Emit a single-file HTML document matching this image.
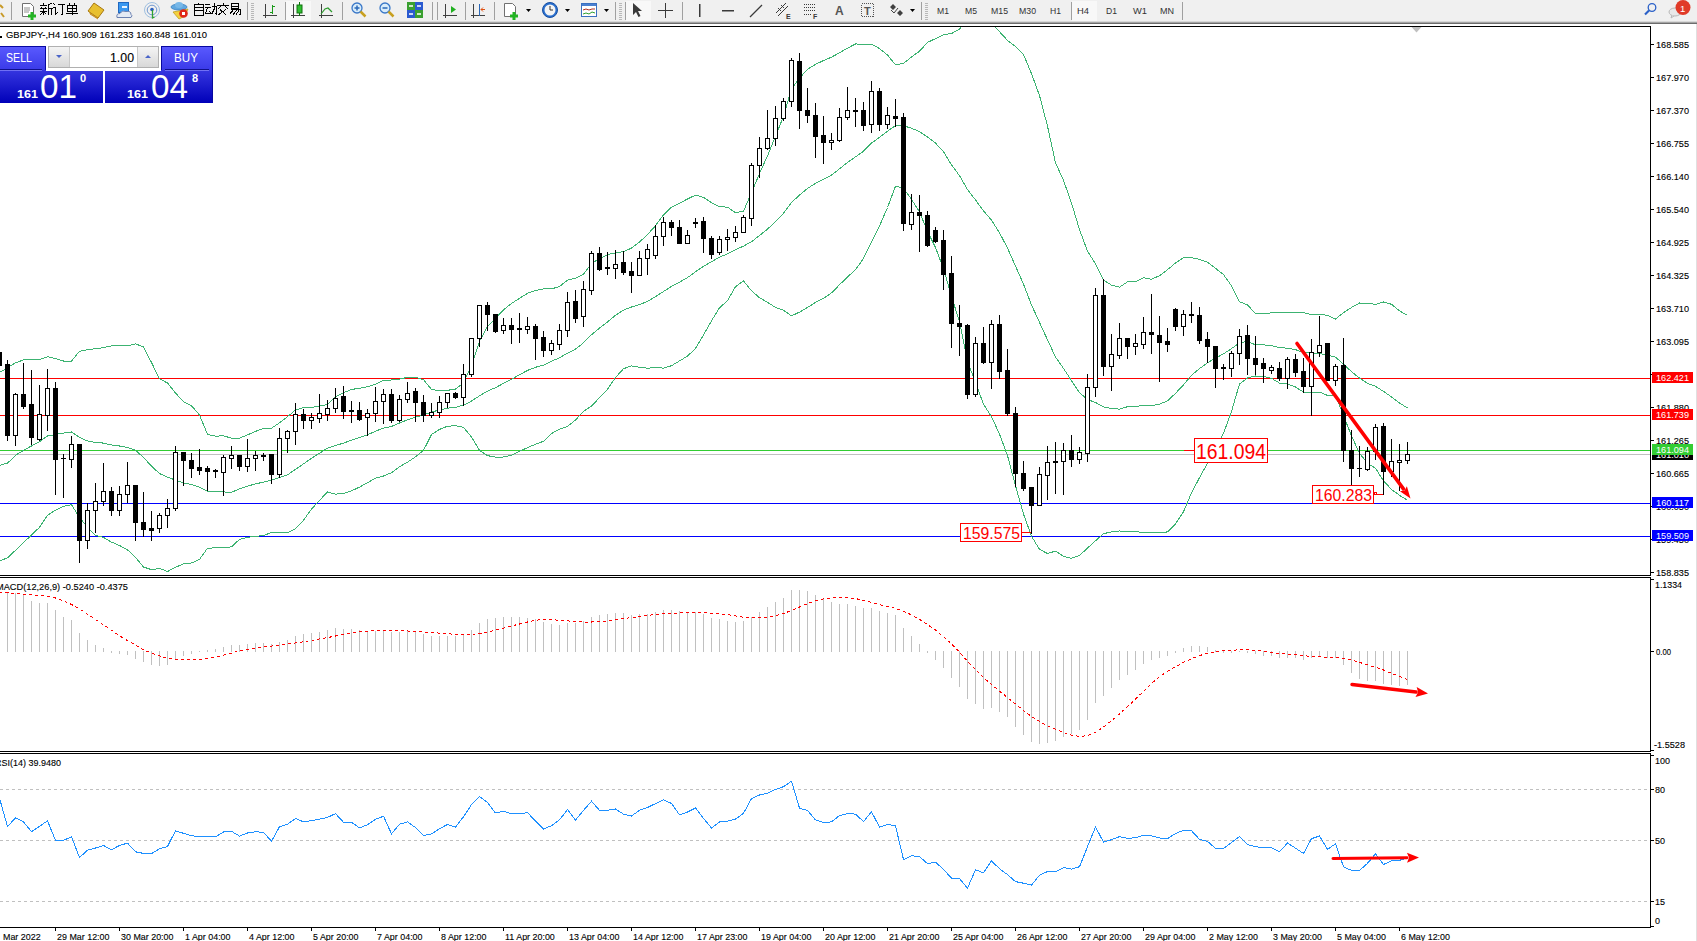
<!DOCTYPE html><html><head><meta charset="utf-8"><style>
html,body{margin:0;padding:0;background:#fff;width:1697px;height:941px;overflow:hidden;}
svg{position:absolute;left:0;top:0;display:block}
text{font-family:"Liberation Sans",sans-serif;}
text[fill="#000"]{stroke:#000;stroke-width:0.12px;}
</style></head><body>
<svg width="1697" height="941" viewBox="0 0 1697 941">
<rect x="0" y="0" width="1697" height="941" fill="#fff"/>
<rect x="0" y="0" width="1697" height="22" fill="#f0f0f0"/>
<rect x="0" y="21" width="1697" height="1" fill="#d8d8d8"/>
<rect x="0" y="22" width="1697" height="1" fill="#a4a4a4"/>
<rect x="0" y="23" width="1697" height="1" fill="#6c6c6c"/>
<rect x="1696" y="24" width="1" height="917" fill="#e0e0e0"/>
<g shape-rendering="crispEdges">
<rect x="0" y="26" width="1651" height="1" fill="#000"/>
<rect x="0" y="575" width="1651" height="1" fill="#000"/>
<rect x="1650" y="26" width="1" height="550" fill="#000"/>
<rect x="0" y="577" width="1651" height="1" fill="#000"/>
<rect x="0" y="751" width="1651" height="1" fill="#000"/>
<rect x="1650" y="577" width="1" height="175" fill="#000"/>
<rect x="0" y="753" width="1651" height="1" fill="#000"/>
<rect x="0" y="927" width="1651" height="1" fill="#000"/>
<rect x="1650" y="753" width="1" height="175" fill="#000"/>
<rect x="1651" y="44" width="3" height="1" fill="#000"/>
<rect x="1651" y="77" width="3" height="1" fill="#000"/>
<rect x="1651" y="110" width="3" height="1" fill="#000"/>
<rect x="1651" y="143" width="3" height="1" fill="#000"/>
<rect x="1651" y="176" width="3" height="1" fill="#000"/>
<rect x="1651" y="209" width="3" height="1" fill="#000"/>
<rect x="1651" y="242" width="3" height="1" fill="#000"/>
<rect x="1651" y="275" width="3" height="1" fill="#000"/>
<rect x="1651" y="308" width="3" height="1" fill="#000"/>
<rect x="1651" y="341" width="3" height="1" fill="#000"/>
<rect x="1651" y="374" width="3" height="1" fill="#000"/>
<rect x="1651" y="407" width="3" height="1" fill="#000"/>
<rect x="1651" y="440" width="3" height="1" fill="#000"/>
<rect x="1651" y="473" width="3" height="1" fill="#000"/>
<rect x="1651" y="506" width="3" height="1" fill="#000"/>
<rect x="1651" y="539" width="3" height="1" fill="#000"/>
<rect x="1651" y="572" width="3" height="1" fill="#000"/>
</g>
<text x="1656" y="48" font-size="9.6" textLength="33" lengthAdjust="spacingAndGlyphs" fill="#000">168.585</text>
<text x="1656" y="81" font-size="9.6" textLength="33" lengthAdjust="spacingAndGlyphs" fill="#000">167.970</text>
<text x="1656" y="114" font-size="9.6" textLength="33" lengthAdjust="spacingAndGlyphs" fill="#000">167.370</text>
<text x="1656" y="147" font-size="9.6" textLength="33" lengthAdjust="spacingAndGlyphs" fill="#000">166.755</text>
<text x="1656" y="180" font-size="9.6" textLength="33" lengthAdjust="spacingAndGlyphs" fill="#000">166.140</text>
<text x="1656" y="213" font-size="9.6" textLength="33" lengthAdjust="spacingAndGlyphs" fill="#000">165.540</text>
<text x="1656" y="246" font-size="9.6" textLength="33" lengthAdjust="spacingAndGlyphs" fill="#000">164.925</text>
<text x="1656" y="279" font-size="9.6" textLength="33" lengthAdjust="spacingAndGlyphs" fill="#000">164.325</text>
<text x="1656" y="312" font-size="9.6" textLength="33" lengthAdjust="spacingAndGlyphs" fill="#000">163.710</text>
<text x="1656" y="345" font-size="9.6" textLength="33" lengthAdjust="spacingAndGlyphs" fill="#000">163.095</text>
<text x="1656" y="378" font-size="9.6" textLength="33" lengthAdjust="spacingAndGlyphs" fill="#000">162.480</text>
<text x="1656" y="411" font-size="9.6" textLength="33" lengthAdjust="spacingAndGlyphs" fill="#000">161.880</text>
<text x="1656" y="444" font-size="9.6" textLength="33" lengthAdjust="spacingAndGlyphs" fill="#000">161.265</text>
<text x="1656" y="477" font-size="9.6" textLength="33" lengthAdjust="spacingAndGlyphs" fill="#000">160.665</text>
<text x="1656" y="510" font-size="9.6" textLength="33" lengthAdjust="spacingAndGlyphs" fill="#000">160.050</text>
<text x="1656" y="543" font-size="9.6" textLength="33" lengthAdjust="spacingAndGlyphs" fill="#000">159.450</text>
<text x="1656" y="576" font-size="9.6" textLength="33" lengthAdjust="spacingAndGlyphs" fill="#000">158.835</text>
<defs><clipPath id="cm"><rect x="0" y="27" width="1650" height="548"/></clipPath>
<clipPath id="cmacd"><rect x="0" y="578" width="1650" height="173"/></clipPath>
<clipPath id="crsi"><rect x="0" y="754" width="1650" height="173"/></clipPath></defs>
<g clip-path="url(#cm)">
<g shape-rendering="crispEdges">
<rect x="0" y="378" width="1650" height="1" fill="#ff0000"/>
<rect x="0" y="415" width="1650" height="1" fill="#ff0000"/>
<rect x="0" y="450" width="1650" height="1" fill="#32cd32"/>
<rect x="0" y="454" width="1650" height="1" fill="#c0c0c0"/>
<rect x="0" y="503" width="1650" height="1" fill="#0000ff"/>
<rect x="0" y="536" width="1650" height="1" fill="#0000ff"/>
</g>
<g fill="none" stroke="#3cb371" stroke-width="1" shape-rendering="crispEdges">
<path d="M-0.5,372.5 L7.5,367.8 L15.5,362.8 L23.5,359.9 L31.5,359.9 L39.5,359.6 L47.5,356.7 L55.5,358.5 L63.5,361.0 L71.5,361.0 L79.5,351.3 L87.5,349.6 L95.5,348.7 L103.5,347.7 L111.5,345.8 L119.5,345.5 L127.5,345.8 L135.5,343.8 L143.5,347.0 L151.5,362.5 L159.5,378.8 L167.5,383.0 L175.5,393.0 L183.5,401.8 L191.5,405.8 L199.5,415.0 L207.5,434.4 L215.5,436.1 L223.5,435.9 L231.5,438.1 L239.5,438.1 L247.5,434.9 L255.5,431.4 L263.5,428.5 L271.5,428.2 L279.5,422.8 L287.5,416.7 L295.5,410.0 L303.5,407.7 L311.5,407.5 L319.5,406.0 L327.5,404.5 L335.5,396.8 L343.5,392.7 L351.5,389.5 L359.5,388.2 L367.5,386.8 L375.5,384.3 L383.5,380.2 L391.5,380.0 L399.5,379.2 L407.5,377.3 L415.5,377.4 L423.5,379.7 L431.5,389.4 L439.5,390.9 L447.5,390.3 L455.5,389.1 L463.5,382.9 L471.5,365.3 L479.5,341.2 L487.5,326.5 L495.5,318.2 L503.5,309.8 L511.5,303.4 L519.5,298.3 L527.5,293.3 L535.5,290.4 L543.5,288.9 L551.5,288.9 L559.5,286.5 L567.5,280.1 L575.5,278.1 L583.5,274.1 L591.5,263.6 L599.5,258.6 L607.5,254.6 L615.5,253.0 L623.5,251.6 L631.5,248.1 L639.5,242.0 L647.5,234.6 L655.5,225.7 L663.5,214.9 L671.5,207.1 L679.5,203.3 L687.5,199.0 L695.5,195.1 L703.5,197.4 L711.5,202.7 L719.5,206.6 L727.5,207.2 L735.5,212.6 L743.5,211.3 L751.5,192.5 L759.5,173.5 L767.5,155.9 L775.5,136.2 L783.5,116.2 L791.5,89.1 L799.5,78.1 L807.5,69.3 L815.5,64.4 L823.5,60.5 L831.5,57.2 L839.5,52.7 L847.5,48.1 L855.5,44.0 L863.5,44.1 L871.5,44.1 L879.5,48.6 L887.5,55.0 L895.5,64.9 L903.5,63.4 L911.5,57.0 L919.5,51.2 L927.5,42.4 L935.5,38.6 L943.5,34.6 L951.5,33.5 L959.5,29.3 L967.5,17.8 L975.5,17.6 L983.5,17.6 L991.5,23.6 L999.5,31.7 L1007.5,40.4 L1015.5,46.5 L1023.5,54.4 L1031.5,73.7 L1039.5,95.5 L1047.5,126.1 L1055.5,162.9 L1063.5,180.3 L1071.5,203.1 L1079.5,229.6 L1087.5,251.2 L1095.5,263.9 L1103.5,280.2 L1111.5,285.1 L1119.5,287.2 L1127.5,281.9 L1135.5,281.9 L1143.5,277.6 L1151.5,279.3 L1159.5,275.7 L1167.5,269.7 L1175.5,263.0 L1183.5,257.7 L1191.5,257.6 L1199.5,259.4 L1207.5,262.2 L1215.5,268.3 L1223.5,274.6 L1231.5,285.8 L1239.5,301.7 L1247.5,304.9 L1255.5,313.7 L1263.5,313.5 L1271.5,312.9 L1279.5,312.1 L1287.5,312.4 L1295.5,312.4 L1303.5,312.7 L1311.5,314.5 L1319.5,314.8 L1327.5,315.1 L1335.5,319.1 L1343.5,312.6 L1351.5,307.5 L1359.5,303.0 L1367.5,303.3 L1375.5,304.4 L1383.5,302.0 L1391.5,304.3 L1399.5,310.8 L1407.5,315.4"/>
<path d="M-0.5,465.3 L7.5,463.2 L15.5,455.3 L23.5,450.3 L31.5,446.0 L39.5,441.7 L47.5,435.9 L55.5,434.5 L63.5,433.1 L71.5,431.9 L79.5,437.4 L87.5,441.0 L95.5,442.4 L103.5,443.1 L111.5,445.0 L119.5,446.0 L127.5,447.4 L135.5,450.3 L143.5,457.5 L151.5,466.1 L159.5,473.6 L167.5,477.2 L175.5,480.1 L183.5,482.9 L191.5,484.4 L199.5,487.2 L207.5,491.4 L215.5,491.9 L223.5,491.9 L231.5,492.4 L239.5,488.8 L247.5,486.1 L255.5,483.9 L263.5,482.1 L271.5,480.3 L279.5,477.5 L287.5,474.8 L295.5,469.4 L303.5,463.9 L311.5,458.3 L319.5,453.2 L327.5,448.2 L335.5,445.5 L343.5,443.1 L351.5,440.2 L359.5,437.6 L367.5,434.8 L375.5,431.2 L383.5,428.1 L391.5,426.4 L399.5,423.0 L407.5,419.8 L415.5,417.1 L423.5,415.1 L431.5,411.9 L439.5,410.1 L447.5,408.2 L455.5,407.4 L463.5,405.1 L471.5,401.1 L479.5,395.8 L487.5,391.1 L495.5,387.7 L503.5,383.4 L511.5,379.3 L519.5,374.8 L527.5,370.4 L535.5,367.3 L543.5,365.1 L551.5,361.2 L559.5,357.8 L567.5,353.2 L575.5,349.1 L583.5,342.8 L591.5,334.8 L599.5,328.1 L607.5,321.9 L615.5,315.2 L623.5,310.1 L631.5,307.0 L639.5,304.6 L647.5,301.4 L655.5,296.6 L663.5,291.5 L671.5,286.4 L679.5,282.1 L687.5,277.6 L695.5,271.8 L703.5,266.2 L711.5,261.8 L719.5,257.2 L727.5,253.9 L735.5,249.7 L743.5,246.1 L751.5,241.7 L759.5,235.6 L767.5,229.1 L775.5,221.8 L783.5,213.2 L791.5,202.5 L799.5,195.1 L807.5,188.4 L815.5,183.4 L823.5,179.4 L831.5,175.1 L839.5,168.8 L847.5,162.5 L855.5,156.9 L863.5,151.2 L871.5,143.1 L879.5,137.3 L887.5,131.2 L895.5,125.5 L903.5,125.8 L911.5,128.2 L919.5,131.6 L927.5,136.9 L935.5,143.1 L943.5,151.7 L951.5,164.8 L959.5,175.7 L967.5,189.6 L975.5,199.9 L983.5,210.9 L991.5,220.2 L999.5,232.8 L1007.5,248.0 L1015.5,266.1 L1023.5,284.2 L1031.5,304.9 L1039.5,322.4 L1047.5,339.8 L1055.5,357.0 L1063.5,368.4 L1071.5,380.7 L1079.5,392.6 L1087.5,399.6 L1095.5,402.4 L1103.5,406.9 L1111.5,408.5 L1119.5,409.1 L1127.5,406.7 L1135.5,406.7 L1143.5,405.2 L1151.5,405.7 L1159.5,404.2 L1167.5,400.8 L1175.5,393.4 L1183.5,384.8 L1191.5,375.2 L1199.5,368.6 L1207.5,362.8 L1215.5,358.1 L1223.5,353.9 L1231.5,348.6 L1239.5,342.9 L1247.5,341.4 L1255.5,344.9 L1263.5,344.9 L1271.5,345.6 L1279.5,347.6 L1287.5,348.2 L1295.5,349.7 L1303.5,352.4 L1311.5,353.3 L1319.5,353.4 L1327.5,355.2 L1335.5,357.2 L1343.5,364.1 L1351.5,371.7 L1359.5,378.1 L1367.5,383.4 L1375.5,386.3 L1383.5,391.4 L1391.5,396.9 L1399.5,403.1 L1407.5,407.9"/>
<path d="M-0.5,560.8 L7.5,557.9 L15.5,550.3 L23.5,542.6 L31.5,535.0 L39.5,527.3 L47.5,515.4 L55.5,510.1 L63.5,506.3 L71.5,504.7 L79.5,517.3 L87.5,527.3 L95.5,535.5 L103.5,537.4 L111.5,542.1 L119.5,545.5 L127.5,549.8 L135.5,557.5 L143.5,567.0 L151.5,569.7 L159.5,568.4 L167.5,571.5 L175.5,567.3 L183.5,563.9 L191.5,563.0 L199.5,559.4 L207.5,548.3 L215.5,547.8 L223.5,547.9 L231.5,546.8 L239.5,539.4 L247.5,537.4 L255.5,536.3 L263.5,535.7 L271.5,532.4 L279.5,532.2 L287.5,532.9 L295.5,528.8 L303.5,520.2 L311.5,509.1 L319.5,500.4 L327.5,491.9 L335.5,494.2 L343.5,493.4 L351.5,490.9 L359.5,487.1 L367.5,482.7 L375.5,478.2 L383.5,476.0 L391.5,472.7 L399.5,466.8 L407.5,462.2 L415.5,456.8 L423.5,450.4 L431.5,434.5 L439.5,429.4 L447.5,426.2 L455.5,425.7 L463.5,427.3 L471.5,437.0 L479.5,450.3 L487.5,455.6 L495.5,457.2 L503.5,457.0 L511.5,455.2 L519.5,451.3 L527.5,447.6 L535.5,444.2 L543.5,441.3 L551.5,433.6 L559.5,429.1 L567.5,426.4 L575.5,420.0 L583.5,411.4 L591.5,406.0 L599.5,397.7 L607.5,389.2 L615.5,377.5 L623.5,368.7 L631.5,365.9 L639.5,367.3 L647.5,368.2 L655.5,367.6 L663.5,368.1 L671.5,365.7 L679.5,360.9 L687.5,356.1 L695.5,348.5 L703.5,335.0 L711.5,320.8 L719.5,307.8 L727.5,300.7 L735.5,286.7 L743.5,280.8 L751.5,290.8 L759.5,297.7 L767.5,302.3 L775.5,307.4 L783.5,310.3 L791.5,315.9 L799.5,312.1 L807.5,307.5 L815.5,302.4 L823.5,298.3 L831.5,292.9 L839.5,284.8 L847.5,276.9 L855.5,269.8 L863.5,258.4 L871.5,242.1 L879.5,226.1 L887.5,207.5 L895.5,186.2 L903.5,188.3 L911.5,199.4 L919.5,211.9 L927.5,231.4 L935.5,247.5 L943.5,268.8 L951.5,296.2 L959.5,322.0 L967.5,361.4 L975.5,382.3 L983.5,404.3 L991.5,416.7 L999.5,434.0 L1007.5,455.6 L1015.5,485.7 L1023.5,514.1 L1031.5,536.2 L1039.5,549.4 L1047.5,553.5 L1055.5,551.1 L1063.5,556.4 L1071.5,558.3 L1079.5,555.5 L1087.5,548.1 L1095.5,540.8 L1103.5,533.7 L1111.5,531.9 L1119.5,531.0 L1127.5,531.5 L1135.5,531.5 L1143.5,532.8 L1151.5,532.1 L1159.5,532.8 L1167.5,531.9 L1175.5,523.9 L1183.5,511.8 L1191.5,492.9 L1199.5,477.7 L1207.5,463.3 L1215.5,447.8 L1223.5,433.3 L1231.5,411.5 L1239.5,384.0 L1247.5,377.9 L1255.5,376.0 L1263.5,376.4 L1271.5,378.3 L1279.5,383.1 L1287.5,384.1 L1295.5,387.0 L1303.5,392.1 L1311.5,392.1 L1319.5,392.1 L1327.5,395.4 L1335.5,395.4 L1343.5,415.5 L1351.5,435.9 L1359.5,453.2 L1367.5,463.4 L1375.5,468.2 L1383.5,480.9 L1391.5,489.4 L1399.5,495.3 L1407.5,500.3"/>
</g>
<g shape-rendering="crispEdges">
<rect x="-1" y="352" width="1" height="21" fill="#000"/>
<rect x="-3" y="352" width="5" height="14" fill="#000"/>
<rect x="7" y="360" width="1" height="81" fill="#000"/>
<rect x="5" y="364" width="5" height="72" fill="#000"/>
<rect x="15" y="393" width="1" height="53" fill="#000"/>
<rect x="13" y="394" width="5" height="42" fill="#000"/>
<rect x="14" y="395" width="3" height="40" fill="#fff"/>
<rect x="23" y="363" width="1" height="46" fill="#000"/>
<rect x="21" y="394" width="5" height="13" fill="#000"/>
<rect x="31" y="370" width="1" height="75" fill="#000"/>
<rect x="29" y="404" width="5" height="34" fill="#000"/>
<rect x="39" y="385" width="1" height="56" fill="#000"/>
<rect x="37" y="414" width="5" height="26" fill="#000"/>
<rect x="38" y="415" width="3" height="24" fill="#fff"/>
<rect x="47" y="369" width="1" height="62" fill="#000"/>
<rect x="45" y="388" width="5" height="28" fill="#000"/>
<rect x="46" y="389" width="3" height="26" fill="#fff"/>
<rect x="55" y="382" width="1" height="113" fill="#000"/>
<rect x="53" y="388" width="5" height="72" fill="#000"/>
<rect x="63" y="454" width="1" height="44" fill="#000"/>
<rect x="61" y="458" width="5" height="1" fill="#000"/>
<rect x="71" y="436" width="1" height="32" fill="#000"/>
<rect x="69" y="444" width="5" height="16" fill="#000"/>
<rect x="70" y="445" width="3" height="14" fill="#fff"/>
<rect x="79" y="444" width="1" height="119" fill="#000"/>
<rect x="77" y="444" width="5" height="97" fill="#000"/>
<rect x="87" y="503" width="1" height="46" fill="#000"/>
<rect x="85" y="510" width="5" height="31" fill="#000"/>
<rect x="86" y="511" width="3" height="29" fill="#fff"/>
<rect x="95" y="483" width="1" height="50" fill="#000"/>
<rect x="93" y="501" width="5" height="10" fill="#000"/>
<rect x="94" y="502" width="3" height="8" fill="#fff"/>
<rect x="103" y="463" width="1" height="43" fill="#000"/>
<rect x="101" y="491" width="5" height="11" fill="#000"/>
<rect x="102" y="492" width="3" height="9" fill="#fff"/>
<rect x="111" y="487" width="1" height="29" fill="#000"/>
<rect x="109" y="491" width="5" height="20" fill="#000"/>
<rect x="119" y="486" width="1" height="30" fill="#000"/>
<rect x="117" y="494" width="5" height="17" fill="#000"/>
<rect x="118" y="495" width="3" height="15" fill="#fff"/>
<rect x="127" y="462" width="1" height="41" fill="#000"/>
<rect x="125" y="485" width="5" height="10" fill="#000"/>
<rect x="126" y="486" width="3" height="8" fill="#fff"/>
<rect x="135" y="485" width="1" height="56" fill="#000"/>
<rect x="133" y="485" width="5" height="38" fill="#000"/>
<rect x="143" y="492" width="1" height="45" fill="#000"/>
<rect x="141" y="522" width="5" height="8" fill="#000"/>
<rect x="151" y="511" width="1" height="30" fill="#000"/>
<rect x="149" y="528" width="5" height="3" fill="#000"/>
<rect x="159" y="513" width="1" height="20" fill="#000"/>
<rect x="157" y="515" width="5" height="14" fill="#000"/>
<rect x="158" y="516" width="3" height="12" fill="#fff"/>
<rect x="167" y="499" width="1" height="29" fill="#000"/>
<rect x="165" y="508" width="5" height="8" fill="#000"/>
<rect x="166" y="509" width="3" height="6" fill="#fff"/>
<rect x="175" y="446" width="1" height="65" fill="#000"/>
<rect x="173" y="452" width="5" height="57" fill="#000"/>
<rect x="174" y="453" width="3" height="55" fill="#fff"/>
<rect x="183" y="452" width="1" height="34" fill="#000"/>
<rect x="181" y="452" width="5" height="9" fill="#000"/>
<rect x="191" y="453" width="1" height="25" fill="#000"/>
<rect x="189" y="460" width="5" height="9" fill="#000"/>
<rect x="199" y="449" width="1" height="26" fill="#000"/>
<rect x="197" y="467" width="5" height="4" fill="#000"/>
<rect x="207" y="466" width="1" height="25" fill="#000"/>
<rect x="205" y="468" width="5" height="4" fill="#000"/>
<rect x="215" y="469" width="1" height="9" fill="#000"/>
<rect x="213" y="470" width="5" height="2" fill="#000"/>
<rect x="223" y="455" width="1" height="41" fill="#000"/>
<rect x="221" y="457" width="5" height="16" fill="#000"/>
<rect x="222" y="458" width="3" height="14" fill="#fff"/>
<rect x="231" y="446" width="1" height="23" fill="#000"/>
<rect x="229" y="455" width="5" height="4" fill="#000"/>
<rect x="230" y="456" width="3" height="2" fill="#fff"/>
<rect x="239" y="455" width="1" height="16" fill="#000"/>
<rect x="237" y="455" width="5" height="12" fill="#000"/>
<rect x="247" y="439" width="1" height="33" fill="#000"/>
<rect x="245" y="458" width="5" height="9" fill="#000"/>
<rect x="246" y="459" width="3" height="7" fill="#fff"/>
<rect x="255" y="451" width="1" height="20" fill="#000"/>
<rect x="253" y="455" width="5" height="4" fill="#000"/>
<rect x="254" y="456" width="3" height="2" fill="#fff"/>
<rect x="263" y="453" width="1" height="8" fill="#000"/>
<rect x="261" y="455" width="5" height="2" fill="#000"/>
<rect x="271" y="454" width="1" height="30" fill="#000"/>
<rect x="269" y="454" width="5" height="21" fill="#000"/>
<rect x="279" y="428" width="1" height="50" fill="#000"/>
<rect x="277" y="438" width="5" height="37" fill="#000"/>
<rect x="278" y="439" width="3" height="35" fill="#fff"/>
<rect x="287" y="430" width="1" height="23" fill="#000"/>
<rect x="285" y="431" width="5" height="8" fill="#000"/>
<rect x="286" y="432" width="3" height="6" fill="#fff"/>
<rect x="295" y="403" width="1" height="42" fill="#000"/>
<rect x="293" y="414" width="5" height="18" fill="#000"/>
<rect x="294" y="415" width="3" height="16" fill="#fff"/>
<rect x="303" y="409" width="1" height="20" fill="#000"/>
<rect x="301" y="414" width="5" height="7" fill="#000"/>
<rect x="311" y="413" width="1" height="16" fill="#000"/>
<rect x="309" y="417" width="5" height="4" fill="#000"/>
<rect x="310" y="418" width="3" height="2" fill="#fff"/>
<rect x="319" y="394" width="1" height="29" fill="#000"/>
<rect x="317" y="413" width="5" height="6" fill="#000"/>
<rect x="318" y="414" width="3" height="4" fill="#fff"/>
<rect x="327" y="400" width="1" height="21" fill="#000"/>
<rect x="325" y="408" width="5" height="7" fill="#000"/>
<rect x="326" y="409" width="3" height="5" fill="#fff"/>
<rect x="335" y="388" width="1" height="25" fill="#000"/>
<rect x="333" y="398" width="5" height="11" fill="#000"/>
<rect x="334" y="399" width="3" height="9" fill="#fff"/>
<rect x="343" y="386" width="1" height="33" fill="#000"/>
<rect x="341" y="396" width="5" height="16" fill="#000"/>
<rect x="351" y="401" width="1" height="22" fill="#000"/>
<rect x="349" y="410" width="5" height="2" fill="#000"/>
<rect x="359" y="402" width="1" height="19" fill="#000"/>
<rect x="357" y="410" width="5" height="10" fill="#000"/>
<rect x="367" y="409" width="1" height="27" fill="#000"/>
<rect x="365" y="413" width="5" height="5" fill="#000"/>
<rect x="366" y="414" width="3" height="3" fill="#fff"/>
<rect x="375" y="387" width="1" height="35" fill="#000"/>
<rect x="373" y="401" width="5" height="13" fill="#000"/>
<rect x="374" y="402" width="3" height="11" fill="#fff"/>
<rect x="383" y="389" width="1" height="35" fill="#000"/>
<rect x="381" y="394" width="5" height="8" fill="#000"/>
<rect x="382" y="395" width="3" height="6" fill="#fff"/>
<rect x="391" y="389" width="1" height="34" fill="#000"/>
<rect x="389" y="394" width="5" height="27" fill="#000"/>
<rect x="399" y="395" width="1" height="27" fill="#000"/>
<rect x="397" y="399" width="5" height="22" fill="#000"/>
<rect x="398" y="400" width="3" height="20" fill="#fff"/>
<rect x="407" y="382" width="1" height="21" fill="#000"/>
<rect x="405" y="393" width="5" height="7" fill="#000"/>
<rect x="406" y="394" width="3" height="5" fill="#fff"/>
<rect x="415" y="388" width="1" height="34" fill="#000"/>
<rect x="413" y="391" width="5" height="12" fill="#000"/>
<rect x="423" y="395" width="1" height="27" fill="#000"/>
<rect x="421" y="402" width="5" height="14" fill="#000"/>
<rect x="431" y="403" width="1" height="15" fill="#000"/>
<rect x="429" y="412" width="5" height="4" fill="#000"/>
<rect x="430" y="413" width="3" height="2" fill="#fff"/>
<rect x="439" y="396" width="1" height="22" fill="#000"/>
<rect x="437" y="402" width="5" height="11" fill="#000"/>
<rect x="438" y="403" width="3" height="9" fill="#fff"/>
<rect x="447" y="393" width="1" height="15" fill="#000"/>
<rect x="445" y="393" width="5" height="10" fill="#000"/>
<rect x="446" y="394" width="3" height="8" fill="#fff"/>
<rect x="455" y="392" width="1" height="7" fill="#000"/>
<rect x="453" y="393" width="5" height="5" fill="#000"/>
<rect x="463" y="364" width="1" height="42" fill="#000"/>
<rect x="461" y="374" width="5" height="24" fill="#000"/>
<rect x="462" y="375" width="3" height="22" fill="#fff"/>
<rect x="471" y="338" width="1" height="39" fill="#000"/>
<rect x="469" y="338" width="5" height="37" fill="#000"/>
<rect x="470" y="339" width="3" height="35" fill="#fff"/>
<rect x="479" y="305" width="1" height="42" fill="#000"/>
<rect x="477" y="305" width="5" height="34" fill="#000"/>
<rect x="478" y="306" width="3" height="32" fill="#fff"/>
<rect x="487" y="302" width="1" height="29" fill="#000"/>
<rect x="485" y="305" width="5" height="10" fill="#000"/>
<rect x="495" y="314" width="1" height="19" fill="#000"/>
<rect x="493" y="314" width="5" height="18" fill="#000"/>
<rect x="503" y="318" width="1" height="16" fill="#000"/>
<rect x="501" y="325" width="5" height="6" fill="#000"/>
<rect x="502" y="326" width="3" height="4" fill="#fff"/>
<rect x="511" y="318" width="1" height="26" fill="#000"/>
<rect x="509" y="325" width="5" height="5" fill="#000"/>
<rect x="519" y="313" width="1" height="30" fill="#000"/>
<rect x="517" y="328" width="5" height="2" fill="#000"/>
<rect x="527" y="317" width="1" height="17" fill="#000"/>
<rect x="525" y="326" width="5" height="4" fill="#000"/>
<rect x="526" y="327" width="3" height="2" fill="#fff"/>
<rect x="535" y="324" width="1" height="36" fill="#000"/>
<rect x="533" y="326" width="5" height="13" fill="#000"/>
<rect x="543" y="331" width="1" height="26" fill="#000"/>
<rect x="541" y="337" width="5" height="14" fill="#000"/>
<rect x="551" y="340" width="1" height="15" fill="#000"/>
<rect x="549" y="343" width="5" height="8" fill="#000"/>
<rect x="550" y="344" width="3" height="6" fill="#fff"/>
<rect x="559" y="324" width="1" height="26" fill="#000"/>
<rect x="557" y="330" width="5" height="15" fill="#000"/>
<rect x="558" y="331" width="3" height="13" fill="#fff"/>
<rect x="567" y="292" width="1" height="45" fill="#000"/>
<rect x="565" y="302" width="5" height="29" fill="#000"/>
<rect x="566" y="303" width="3" height="27" fill="#fff"/>
<rect x="575" y="290" width="1" height="33" fill="#000"/>
<rect x="573" y="301" width="5" height="18" fill="#000"/>
<rect x="583" y="281" width="1" height="46" fill="#000"/>
<rect x="581" y="289" width="5" height="28" fill="#000"/>
<rect x="582" y="290" width="3" height="26" fill="#fff"/>
<rect x="591" y="251" width="1" height="44" fill="#000"/>
<rect x="589" y="253" width="5" height="38" fill="#000"/>
<rect x="590" y="254" width="3" height="36" fill="#fff"/>
<rect x="599" y="247" width="1" height="24" fill="#000"/>
<rect x="597" y="253" width="5" height="17" fill="#000"/>
<rect x="607" y="252" width="1" height="23" fill="#000"/>
<rect x="605" y="267" width="5" height="2" fill="#000"/>
<rect x="615" y="250" width="1" height="29" fill="#000"/>
<rect x="613" y="264" width="5" height="5" fill="#000"/>
<rect x="614" y="265" width="3" height="3" fill="#fff"/>
<rect x="623" y="251" width="1" height="24" fill="#000"/>
<rect x="621" y="262" width="5" height="11" fill="#000"/>
<rect x="631" y="262" width="1" height="31" fill="#000"/>
<rect x="629" y="271" width="5" height="5" fill="#000"/>
<rect x="639" y="251" width="1" height="25" fill="#000"/>
<rect x="637" y="258" width="5" height="18" fill="#000"/>
<rect x="638" y="259" width="3" height="16" fill="#fff"/>
<rect x="647" y="244" width="1" height="31" fill="#000"/>
<rect x="645" y="249" width="5" height="10" fill="#000"/>
<rect x="646" y="250" width="3" height="8" fill="#fff"/>
<rect x="655" y="225" width="1" height="34" fill="#000"/>
<rect x="653" y="236" width="5" height="20" fill="#000"/>
<rect x="654" y="237" width="3" height="18" fill="#fff"/>
<rect x="663" y="217" width="1" height="29" fill="#000"/>
<rect x="661" y="222" width="5" height="15" fill="#000"/>
<rect x="662" y="223" width="3" height="13" fill="#fff"/>
<rect x="671" y="220" width="1" height="16" fill="#000"/>
<rect x="669" y="222" width="5" height="6" fill="#000"/>
<rect x="679" y="220" width="1" height="24" fill="#000"/>
<rect x="677" y="227" width="5" height="17" fill="#000"/>
<rect x="687" y="230" width="1" height="14" fill="#000"/>
<rect x="685" y="235" width="5" height="9" fill="#000"/>
<rect x="686" y="236" width="3" height="7" fill="#fff"/>
<rect x="695" y="218" width="1" height="10" fill="#000"/>
<rect x="693" y="222" width="5" height="2" fill="#000"/>
<rect x="703" y="217" width="1" height="36" fill="#000"/>
<rect x="701" y="221" width="5" height="18" fill="#000"/>
<rect x="711" y="236" width="1" height="23" fill="#000"/>
<rect x="709" y="238" width="5" height="17" fill="#000"/>
<rect x="719" y="236" width="1" height="19" fill="#000"/>
<rect x="717" y="239" width="5" height="14" fill="#000"/>
<rect x="718" y="240" width="3" height="12" fill="#fff"/>
<rect x="727" y="229" width="1" height="22" fill="#000"/>
<rect x="725" y="237" width="5" height="3" fill="#000"/>
<rect x="726" y="238" width="3" height="1" fill="#fff"/>
<rect x="735" y="226" width="1" height="16" fill="#000"/>
<rect x="733" y="232" width="5" height="6" fill="#000"/>
<rect x="734" y="233" width="3" height="4" fill="#fff"/>
<rect x="743" y="215" width="1" height="18" fill="#000"/>
<rect x="741" y="217" width="5" height="16" fill="#000"/>
<rect x="742" y="218" width="3" height="14" fill="#fff"/>
<rect x="751" y="163" width="1" height="63" fill="#000"/>
<rect x="749" y="165" width="5" height="54" fill="#000"/>
<rect x="750" y="166" width="3" height="52" fill="#fff"/>
<rect x="759" y="137" width="1" height="41" fill="#000"/>
<rect x="757" y="148" width="5" height="18" fill="#000"/>
<rect x="758" y="149" width="3" height="16" fill="#fff"/>
<rect x="767" y="110" width="1" height="40" fill="#000"/>
<rect x="765" y="138" width="5" height="11" fill="#000"/>
<rect x="766" y="139" width="3" height="9" fill="#fff"/>
<rect x="775" y="106" width="1" height="40" fill="#000"/>
<rect x="773" y="118" width="5" height="21" fill="#000"/>
<rect x="774" y="119" width="3" height="19" fill="#fff"/>
<rect x="783" y="98" width="1" height="23" fill="#000"/>
<rect x="781" y="101" width="5" height="18" fill="#000"/>
<rect x="782" y="102" width="3" height="16" fill="#fff"/>
<rect x="791" y="58" width="1" height="49" fill="#000"/>
<rect x="789" y="60" width="5" height="42" fill="#000"/>
<rect x="790" y="61" width="3" height="40" fill="#fff"/>
<rect x="799" y="53" width="1" height="76" fill="#000"/>
<rect x="797" y="61" width="5" height="50" fill="#000"/>
<rect x="807" y="88" width="1" height="35" fill="#000"/>
<rect x="805" y="110" width="5" height="6" fill="#000"/>
<rect x="815" y="103" width="1" height="55" fill="#000"/>
<rect x="813" y="115" width="5" height="22" fill="#000"/>
<rect x="823" y="116" width="1" height="48" fill="#000"/>
<rect x="821" y="135" width="5" height="8" fill="#000"/>
<rect x="831" y="133" width="1" height="17" fill="#000"/>
<rect x="829" y="140" width="5" height="3" fill="#000"/>
<rect x="830" y="141" width="3" height="1" fill="#fff"/>
<rect x="839" y="108" width="1" height="34" fill="#000"/>
<rect x="837" y="117" width="5" height="24" fill="#000"/>
<rect x="838" y="118" width="3" height="22" fill="#fff"/>
<rect x="847" y="87" width="1" height="33" fill="#000"/>
<rect x="845" y="110" width="5" height="8" fill="#000"/>
<rect x="846" y="111" width="3" height="6" fill="#fff"/>
<rect x="855" y="98" width="1" height="29" fill="#000"/>
<rect x="853" y="110" width="5" height="2" fill="#000"/>
<rect x="863" y="102" width="1" height="29" fill="#000"/>
<rect x="861" y="110" width="5" height="16" fill="#000"/>
<rect x="871" y="81" width="1" height="52" fill="#000"/>
<rect x="869" y="91" width="5" height="34" fill="#000"/>
<rect x="870" y="92" width="3" height="32" fill="#fff"/>
<rect x="879" y="88" width="1" height="43" fill="#000"/>
<rect x="877" y="91" width="5" height="34" fill="#000"/>
<rect x="887" y="107" width="1" height="22" fill="#000"/>
<rect x="885" y="115" width="5" height="10" fill="#000"/>
<rect x="886" y="116" width="3" height="8" fill="#fff"/>
<rect x="895" y="99" width="1" height="28" fill="#000"/>
<rect x="893" y="116" width="5" height="3" fill="#000"/>
<rect x="903" y="113" width="1" height="118" fill="#000"/>
<rect x="901" y="117" width="5" height="107" fill="#000"/>
<rect x="911" y="194" width="1" height="36" fill="#000"/>
<rect x="909" y="212" width="5" height="13" fill="#000"/>
<rect x="910" y="213" width="3" height="11" fill="#fff"/>
<rect x="919" y="195" width="1" height="57" fill="#000"/>
<rect x="917" y="212" width="5" height="4" fill="#000"/>
<rect x="927" y="211" width="1" height="36" fill="#000"/>
<rect x="925" y="215" width="5" height="31" fill="#000"/>
<rect x="935" y="227" width="1" height="16" fill="#000"/>
<rect x="933" y="230" width="5" height="12" fill="#000"/>
<rect x="943" y="230" width="1" height="60" fill="#000"/>
<rect x="941" y="240" width="5" height="35" fill="#000"/>
<rect x="951" y="256" width="1" height="92" fill="#000"/>
<rect x="949" y="273" width="5" height="51" fill="#000"/>
<rect x="959" y="305" width="1" height="51" fill="#000"/>
<rect x="957" y="323" width="5" height="4" fill="#000"/>
<rect x="967" y="324" width="1" height="75" fill="#000"/>
<rect x="965" y="325" width="5" height="70" fill="#000"/>
<rect x="975" y="337" width="1" height="60" fill="#000"/>
<rect x="973" y="343" width="5" height="52" fill="#000"/>
<rect x="974" y="344" width="3" height="50" fill="#fff"/>
<rect x="983" y="327" width="1" height="37" fill="#000"/>
<rect x="981" y="343" width="5" height="20" fill="#000"/>
<rect x="991" y="320" width="1" height="69" fill="#000"/>
<rect x="989" y="324" width="5" height="39" fill="#000"/>
<rect x="990" y="325" width="3" height="37" fill="#fff"/>
<rect x="999" y="315" width="1" height="64" fill="#000"/>
<rect x="997" y="324" width="5" height="48" fill="#000"/>
<rect x="1007" y="349" width="1" height="67" fill="#000"/>
<rect x="1005" y="370" width="5" height="44" fill="#000"/>
<rect x="1015" y="407" width="1" height="80" fill="#000"/>
<rect x="1013" y="413" width="5" height="61" fill="#000"/>
<rect x="1023" y="461" width="1" height="30" fill="#000"/>
<rect x="1021" y="473" width="5" height="16" fill="#000"/>
<rect x="1031" y="487" width="1" height="47" fill="#000"/>
<rect x="1029" y="487" width="5" height="19" fill="#000"/>
<rect x="1039" y="467" width="1" height="39" fill="#000"/>
<rect x="1037" y="474" width="5" height="32" fill="#000"/>
<rect x="1038" y="475" width="3" height="30" fill="#fff"/>
<rect x="1047" y="446" width="1" height="54" fill="#000"/>
<rect x="1045" y="462" width="5" height="14" fill="#000"/>
<rect x="1046" y="463" width="3" height="12" fill="#fff"/>
<rect x="1055" y="442" width="1" height="52" fill="#000"/>
<rect x="1053" y="461" width="5" height="2" fill="#000"/>
<rect x="1063" y="443" width="1" height="52" fill="#000"/>
<rect x="1061" y="450" width="5" height="12" fill="#000"/>
<rect x="1062" y="451" width="3" height="10" fill="#fff"/>
<rect x="1071" y="435" width="1" height="32" fill="#000"/>
<rect x="1069" y="450" width="5" height="10" fill="#000"/>
<rect x="1079" y="447" width="1" height="17" fill="#000"/>
<rect x="1077" y="452" width="5" height="8" fill="#000"/>
<rect x="1078" y="453" width="3" height="6" fill="#fff"/>
<rect x="1087" y="374" width="1" height="88" fill="#000"/>
<rect x="1085" y="387" width="5" height="67" fill="#000"/>
<rect x="1086" y="388" width="3" height="65" fill="#fff"/>
<rect x="1095" y="288" width="1" height="109" fill="#000"/>
<rect x="1093" y="295" width="5" height="93" fill="#000"/>
<rect x="1094" y="296" width="3" height="91" fill="#fff"/>
<rect x="1103" y="279" width="1" height="97" fill="#000"/>
<rect x="1101" y="295" width="5" height="72" fill="#000"/>
<rect x="1111" y="334" width="1" height="57" fill="#000"/>
<rect x="1109" y="354" width="5" height="13" fill="#000"/>
<rect x="1110" y="355" width="3" height="11" fill="#fff"/>
<rect x="1119" y="323" width="1" height="36" fill="#000"/>
<rect x="1117" y="338" width="5" height="18" fill="#000"/>
<rect x="1118" y="339" width="3" height="16" fill="#fff"/>
<rect x="1127" y="338" width="1" height="21" fill="#000"/>
<rect x="1125" y="338" width="5" height="9" fill="#000"/>
<rect x="1135" y="334" width="1" height="21" fill="#000"/>
<rect x="1133" y="343" width="5" height="4" fill="#000"/>
<rect x="1134" y="344" width="3" height="2" fill="#fff"/>
<rect x="1143" y="317" width="1" height="32" fill="#000"/>
<rect x="1141" y="332" width="5" height="13" fill="#000"/>
<rect x="1142" y="333" width="3" height="11" fill="#fff"/>
<rect x="1151" y="294" width="1" height="60" fill="#000"/>
<rect x="1149" y="332" width="5" height="3" fill="#000"/>
<rect x="1159" y="316" width="1" height="66" fill="#000"/>
<rect x="1157" y="335" width="5" height="8" fill="#000"/>
<rect x="1167" y="328" width="1" height="24" fill="#000"/>
<rect x="1165" y="341" width="5" height="4" fill="#000"/>
<rect x="1175" y="308" width="1" height="23" fill="#000"/>
<rect x="1173" y="309" width="5" height="18" fill="#000"/>
<rect x="1183" y="310" width="1" height="26" fill="#000"/>
<rect x="1181" y="314" width="5" height="13" fill="#000"/>
<rect x="1182" y="315" width="3" height="11" fill="#fff"/>
<rect x="1191" y="302" width="1" height="21" fill="#000"/>
<rect x="1189" y="314" width="5" height="2" fill="#000"/>
<rect x="1199" y="307" width="1" height="37" fill="#000"/>
<rect x="1197" y="315" width="5" height="26" fill="#000"/>
<rect x="1207" y="332" width="1" height="31" fill="#000"/>
<rect x="1205" y="339" width="5" height="8" fill="#000"/>
<rect x="1215" y="346" width="1" height="42" fill="#000"/>
<rect x="1213" y="346" width="5" height="23" fill="#000"/>
<rect x="1223" y="364" width="1" height="16" fill="#000"/>
<rect x="1221" y="367" width="5" height="2" fill="#000"/>
<rect x="1231" y="351" width="1" height="26" fill="#000"/>
<rect x="1229" y="353" width="5" height="16" fill="#000"/>
<rect x="1230" y="354" width="3" height="14" fill="#fff"/>
<rect x="1239" y="329" width="1" height="36" fill="#000"/>
<rect x="1237" y="336" width="5" height="18" fill="#000"/>
<rect x="1238" y="337" width="3" height="16" fill="#fff"/>
<rect x="1247" y="325" width="1" height="50" fill="#000"/>
<rect x="1245" y="335" width="5" height="24" fill="#000"/>
<rect x="1255" y="336" width="1" height="39" fill="#000"/>
<rect x="1253" y="358" width="5" height="7" fill="#000"/>
<rect x="1263" y="358" width="1" height="25" fill="#000"/>
<rect x="1261" y="363" width="5" height="6" fill="#000"/>
<rect x="1271" y="365" width="1" height="9" fill="#000"/>
<rect x="1269" y="367" width="5" height="4" fill="#000"/>
<rect x="1270" y="368" width="3" height="2" fill="#fff"/>
<rect x="1279" y="362" width="1" height="19" fill="#000"/>
<rect x="1277" y="368" width="5" height="11" fill="#000"/>
<rect x="1287" y="357" width="1" height="32" fill="#000"/>
<rect x="1285" y="359" width="5" height="20" fill="#000"/>
<rect x="1286" y="360" width="3" height="18" fill="#fff"/>
<rect x="1295" y="354" width="1" height="23" fill="#000"/>
<rect x="1293" y="359" width="5" height="14" fill="#000"/>
<rect x="1303" y="358" width="1" height="35" fill="#000"/>
<rect x="1301" y="371" width="5" height="16" fill="#000"/>
<rect x="1311" y="339" width="1" height="77" fill="#000"/>
<rect x="1309" y="352" width="5" height="35" fill="#000"/>
<rect x="1310" y="353" width="3" height="33" fill="#fff"/>
<rect x="1319" y="316" width="1" height="41" fill="#000"/>
<rect x="1317" y="345" width="5" height="8" fill="#000"/>
<rect x="1318" y="346" width="3" height="6" fill="#fff"/>
<rect x="1327" y="343" width="1" height="38" fill="#000"/>
<rect x="1325" y="343" width="5" height="38" fill="#000"/>
<rect x="1335" y="364" width="1" height="22" fill="#000"/>
<rect x="1333" y="366" width="5" height="15" fill="#000"/>
<rect x="1334" y="367" width="3" height="13" fill="#fff"/>
<rect x="1343" y="338" width="1" height="124" fill="#000"/>
<rect x="1341" y="365" width="5" height="86" fill="#000"/>
<rect x="1351" y="430" width="1" height="56" fill="#000"/>
<rect x="1349" y="450" width="5" height="19" fill="#000"/>
<rect x="1359" y="446" width="1" height="31" fill="#000"/>
<rect x="1357" y="468" width="5" height="1" fill="#000"/>
<rect x="1367" y="447" width="1" height="24" fill="#000"/>
<rect x="1365" y="451" width="5" height="19" fill="#000"/>
<rect x="1366" y="452" width="3" height="17" fill="#fff"/>
<rect x="1375" y="424" width="1" height="36" fill="#000"/>
<rect x="1373" y="427" width="5" height="25" fill="#000"/>
<rect x="1374" y="428" width="3" height="23" fill="#fff"/>
<rect x="1383" y="423" width="1" height="72" fill="#000"/>
<rect x="1381" y="426" width="5" height="46" fill="#000"/>
<rect x="1391" y="439" width="1" height="38" fill="#000"/>
<rect x="1389" y="461" width="5" height="11" fill="#000"/>
<rect x="1390" y="462" width="3" height="9" fill="#fff"/>
<rect x="1399" y="444" width="1" height="47" fill="#000"/>
<rect x="1397" y="460" width="5" height="3" fill="#000"/>
<rect x="1398" y="461" width="3" height="1" fill="#fff"/>
<rect x="1407" y="442" width="1" height="22" fill="#000"/>
<rect x="1405" y="454" width="5" height="7" fill="#000"/>
<rect x="1406" y="455" width="3" height="5" fill="#fff"/>
</g>
<line x1="1297" y1="343.5" x2="1403.410407646844" y2="488.8181778437077" stroke="#ff0000" stroke-width="3.6" stroke-linecap="round"/><polygon points="1410.5,498.5 1399.9410880408393,491.3586151035886 1404.5920063723702,490.4318148697564 1406.8797272528489,486.2777405838268" fill="#ff0000"/>
<g shape-rendering="crispEdges">
<rect x="1184" y="450" width="10" height="1" fill="#ff0000"/>
<rect x="1194.5" y="438.5" width="73" height="24" fill="#fff" stroke="#ff0000" stroke-width="1"/>
<rect x="960.5" y="523.5" width="61" height="18" fill="#fff" stroke="#ff0000" stroke-width="1"/>
<rect x="1022" y="532" width="9" height="1" fill="#ff0000"/>
<rect x="1312.5" y="485.5" width="61" height="18" fill="#fff" stroke="#ff0000" stroke-width="1"/>
<rect x="1374.5" y="492.5" width="2" height="2" fill="none" stroke="#ff0000" stroke-width="1"/>
<rect x="1377" y="494" width="6" height="1" fill="#ff0000"/>
</g>
<text x="1196" y="458.5" font-size="22" textLength="70" lengthAdjust="spacingAndGlyphs" fill="#ff0000">161.094</text>
<text x="963" y="539" font-size="16" textLength="57" lengthAdjust="spacingAndGlyphs" fill="#ff0000">159.575</text>
<text x="1315" y="501" font-size="16" textLength="57" lengthAdjust="spacingAndGlyphs" fill="#ff0000">160.283</text>
<polygon points="1411.5,27 1421.5,27 1416.5,32.5" fill="#c0c0c0"/>
</g>
<text x="6" y="38" font-size="9.6" fill="#000" textLength="201" lengthAdjust="spacingAndGlyphs">GBPJPY-,H4  160.909 161.233 160.848 161.010</text>
<rect x="0" y="36" width="2" height="2" fill="#000"/>
<rect x="1652" y="372" width="41" height="11" fill="#ff0000" shape-rendering="crispEdges"/>
<text x="1656" y="381" font-size="9.6" textLength="33" lengthAdjust="spacingAndGlyphs" fill="#fff">162.421</text>
<rect x="1652" y="409" width="41" height="11" fill="#ff0000" shape-rendering="crispEdges"/>
<text x="1656" y="418" font-size="9.6" textLength="33" lengthAdjust="spacingAndGlyphs" fill="#fff">161.739</text>
<rect x="1652" y="449" width="41" height="11" fill="#000000" shape-rendering="crispEdges"/>
<text x="1656" y="458" font-size="9.6" textLength="33" lengthAdjust="spacingAndGlyphs" fill="#fff">161.010</text>
<rect x="1652" y="444" width="41" height="11" fill="#32cd32" shape-rendering="crispEdges"/>
<text x="1656" y="453" font-size="9.6" textLength="33" lengthAdjust="spacingAndGlyphs" fill="#fff">161.094</text>
<rect x="1652" y="497" width="41" height="11" fill="#0000ff" shape-rendering="crispEdges"/>
<text x="1656" y="506" font-size="9.6" textLength="33" lengthAdjust="spacingAndGlyphs" fill="#fff">160.117</text>
<rect x="1652" y="530" width="41" height="11" fill="#0000ff" shape-rendering="crispEdges"/>
<text x="1656" y="539" font-size="9.6" textLength="33" lengthAdjust="spacingAndGlyphs" fill="#fff">159.509</text>
<g clip-path="url(#cmacd)">
<g shape-rendering="crispEdges" fill="#c0c0c0">
<rect x="-1" y="588" width="1" height="64"/>
<rect x="7" y="593" width="1" height="59"/>
<rect x="15" y="593" width="1" height="59"/>
<rect x="23" y="595" width="1" height="57"/>
<rect x="31" y="601" width="1" height="51"/>
<rect x="39" y="603" width="1" height="49"/>
<rect x="47" y="603" width="1" height="49"/>
<rect x="55" y="610" width="1" height="42"/>
<rect x="63" y="617" width="1" height="35"/>
<rect x="71" y="620" width="1" height="32"/>
<rect x="79" y="633" width="1" height="19"/>
<rect x="87" y="640" width="1" height="12"/>
<rect x="95" y="645" width="1" height="7"/>
<rect x="103" y="648" width="1" height="4"/>
<rect x="111" y="651" width="1" height="2"/>
<rect x="119" y="651" width="1" height="3"/>
<rect x="127" y="651" width="1" height="4"/>
<rect x="135" y="651" width="1" height="8"/>
<rect x="143" y="651" width="1" height="11"/>
<rect x="151" y="651" width="1" height="14"/>
<rect x="159" y="651" width="1" height="15"/>
<rect x="167" y="651" width="1" height="14"/>
<rect x="175" y="651" width="1" height="9"/>
<rect x="183" y="651" width="1" height="5"/>
<rect x="191" y="651" width="1" height="3"/>
<rect x="199" y="651" width="1" height="1"/>
<rect x="207" y="650" width="1" height="2"/>
<rect x="215" y="649" width="1" height="3"/>
<rect x="223" y="647" width="1" height="5"/>
<rect x="231" y="645" width="1" height="7"/>
<rect x="239" y="645" width="1" height="7"/>
<rect x="247" y="644" width="1" height="8"/>
<rect x="255" y="643" width="1" height="9"/>
<rect x="263" y="643" width="1" height="9"/>
<rect x="271" y="644" width="1" height="8"/>
<rect x="279" y="642" width="1" height="10"/>
<rect x="287" y="640" width="1" height="12"/>
<rect x="295" y="636" width="1" height="16"/>
<rect x="303" y="634" width="1" height="18"/>
<rect x="311" y="633" width="1" height="19"/>
<rect x="319" y="632" width="1" height="20"/>
<rect x="327" y="630" width="1" height="22"/>
<rect x="335" y="628" width="1" height="24"/>
<rect x="343" y="629" width="1" height="23"/>
<rect x="351" y="629" width="1" height="23"/>
<rect x="359" y="630" width="1" height="22"/>
<rect x="367" y="631" width="1" height="21"/>
<rect x="375" y="631" width="1" height="21"/>
<rect x="383" y="630" width="1" height="22"/>
<rect x="391" y="632" width="1" height="20"/>
<rect x="399" y="632" width="1" height="20"/>
<rect x="407" y="631" width="1" height="21"/>
<rect x="415" y="632" width="1" height="20"/>
<rect x="423" y="634" width="1" height="18"/>
<rect x="431" y="636" width="1" height="16"/>
<rect x="439" y="636" width="1" height="16"/>
<rect x="447" y="636" width="1" height="16"/>
<rect x="455" y="636" width="1" height="16"/>
<rect x="463" y="634" width="1" height="18"/>
<rect x="471" y="630" width="1" height="22"/>
<rect x="479" y="623" width="1" height="29"/>
<rect x="487" y="619" width="1" height="33"/>
<rect x="495" y="618" width="1" height="34"/>
<rect x="503" y="617" width="1" height="35"/>
<rect x="511" y="617" width="1" height="35"/>
<rect x="519" y="617" width="1" height="35"/>
<rect x="527" y="618" width="1" height="34"/>
<rect x="535" y="619" width="1" height="33"/>
<rect x="543" y="622" width="1" height="30"/>
<rect x="551" y="624" width="1" height="28"/>
<rect x="559" y="625" width="1" height="27"/>
<rect x="567" y="623" width="1" height="29"/>
<rect x="575" y="623" width="1" height="29"/>
<rect x="583" y="621" width="1" height="31"/>
<rect x="591" y="617" width="1" height="35"/>
<rect x="599" y="615" width="1" height="37"/>
<rect x="607" y="614" width="1" height="38"/>
<rect x="615" y="613" width="1" height="39"/>
<rect x="623" y="613" width="1" height="39"/>
<rect x="631" y="615" width="1" height="37"/>
<rect x="639" y="614" width="1" height="38"/>
<rect x="647" y="614" width="1" height="38"/>
<rect x="655" y="612" width="1" height="40"/>
<rect x="663" y="610" width="1" height="42"/>
<rect x="671" y="610" width="1" height="42"/>
<rect x="679" y="611" width="1" height="41"/>
<rect x="687" y="612" width="1" height="40"/>
<rect x="695" y="612" width="1" height="40"/>
<rect x="703" y="614" width="1" height="38"/>
<rect x="711" y="618" width="1" height="34"/>
<rect x="719" y="619" width="1" height="33"/>
<rect x="727" y="621" width="1" height="31"/>
<rect x="735" y="622" width="1" height="30"/>
<rect x="743" y="621" width="1" height="31"/>
<rect x="751" y="617" width="1" height="35"/>
<rect x="759" y="612" width="1" height="40"/>
<rect x="767" y="607" width="1" height="45"/>
<rect x="775" y="602" width="1" height="50"/>
<rect x="783" y="598" width="1" height="54"/>
<rect x="791" y="590" width="1" height="62"/>
<rect x="799" y="590" width="1" height="62"/>
<rect x="807" y="591" width="1" height="61"/>
<rect x="815" y="595" width="1" height="57"/>
<rect x="823" y="599" width="1" height="53"/>
<rect x="831" y="602" width="1" height="50"/>
<rect x="839" y="604" width="1" height="48"/>
<rect x="847" y="604" width="1" height="48"/>
<rect x="855" y="606" width="1" height="46"/>
<rect x="863" y="608" width="1" height="44"/>
<rect x="871" y="608" width="1" height="44"/>
<rect x="879" y="611" width="1" height="41"/>
<rect x="887" y="613" width="1" height="39"/>
<rect x="895" y="615" width="1" height="37"/>
<rect x="903" y="628" width="1" height="24"/>
<rect x="911" y="636" width="1" height="16"/>
<rect x="919" y="644" width="1" height="8"/>
<rect x="927" y="651" width="1" height="2"/>
<rect x="935" y="651" width="1" height="9"/>
<rect x="943" y="651" width="1" height="17"/>
<rect x="951" y="651" width="1" height="27"/>
<rect x="959" y="651" width="1" height="36"/>
<rect x="967" y="651" width="1" height="48"/>
<rect x="975" y="651" width="1" height="53"/>
<rect x="983" y="651" width="1" height="58"/>
<rect x="991" y="651" width="1" height="57"/>
<rect x="999" y="651" width="1" height="61"/>
<rect x="1007" y="651" width="1" height="66"/>
<rect x="1015" y="651" width="1" height="76"/>
<rect x="1023" y="651" width="1" height="84"/>
<rect x="1031" y="651" width="1" height="91"/>
<rect x="1039" y="651" width="1" height="93"/>
<rect x="1047" y="651" width="1" height="92"/>
<rect x="1055" y="651" width="1" height="90"/>
<rect x="1063" y="651" width="1" height="86"/>
<rect x="1071" y="651" width="1" height="83"/>
<rect x="1079" y="651" width="1" height="79"/>
<rect x="1087" y="651" width="1" height="69"/>
<rect x="1095" y="651" width="1" height="52"/>
<rect x="1103" y="651" width="1" height="45"/>
<rect x="1111" y="651" width="1" height="37"/>
<rect x="1119" y="651" width="1" height="29"/>
<rect x="1127" y="651" width="1" height="24"/>
<rect x="1135" y="651" width="1" height="19"/>
<rect x="1143" y="651" width="1" height="13"/>
<rect x="1151" y="651" width="1" height="9"/>
<rect x="1159" y="651" width="1" height="7"/>
<rect x="1167" y="651" width="1" height="5"/>
<rect x="1175" y="651" width="1" height="2"/>
<rect x="1183" y="648" width="1" height="4"/>
<rect x="1191" y="646" width="1" height="6"/>
<rect x="1199" y="646" width="1" height="6"/>
<rect x="1207" y="647" width="1" height="5"/>
<rect x="1215" y="650" width="1" height="2"/>
<rect x="1223" y="651" width="1" height="2"/>
<rect x="1231" y="651" width="1" height="2"/>
<rect x="1239" y="651" width="1" height="1"/>
<rect x="1247" y="651" width="1" height="2"/>
<rect x="1255" y="651" width="1" height="3"/>
<rect x="1263" y="651" width="1" height="5"/>
<rect x="1271" y="651" width="1" height="5"/>
<rect x="1279" y="651" width="1" height="7"/>
<rect x="1287" y="651" width="1" height="7"/>
<rect x="1295" y="651" width="1" height="7"/>
<rect x="1303" y="651" width="1" height="9"/>
<rect x="1311" y="651" width="1" height="7"/>
<rect x="1319" y="651" width="1" height="5"/>
<rect x="1327" y="651" width="1" height="7"/>
<rect x="1335" y="651" width="1" height="7"/>
<rect x="1343" y="651" width="1" height="14"/>
<rect x="1351" y="651" width="1" height="22"/>
<rect x="1359" y="651" width="1" height="28"/>
<rect x="1367" y="651" width="1" height="30"/>
<rect x="1375" y="651" width="1" height="30"/>
<rect x="1383" y="651" width="1" height="33"/>
<rect x="1391" y="651" width="1" height="34"/>
<rect x="1399" y="651" width="1" height="35"/>
<rect x="1407" y="651" width="1" height="34"/>
</g>
<path d="M-0.5,592.5 L7.5,592.8 L15.5,593.5 L23.5,594.1 L31.5,594.8 L39.5,595.5 L47.5,596.5 L55.5,598.0 L63.5,600.9 L71.5,604.5 L79.5,608.9 L87.5,614.1 L95.5,619.6 L103.5,624.8 L111.5,630.2 L119.5,635.7 L127.5,640.6 L135.5,645.1 L143.5,649.7 L151.5,653.2 L159.5,655.9 L167.5,658.1 L175.5,659.3 L183.5,659.7 L191.5,659.6 L199.5,659.3 L207.5,658.4 L215.5,657.0 L223.5,655.1 L231.5,653.0 L239.5,650.8 L247.5,649.2 L255.5,647.9 L263.5,646.8 L271.5,646.1 L279.5,645.2 L287.5,644.1 L295.5,643.0 L303.5,641.8 L311.5,640.4 L319.5,639.0 L327.5,637.6 L335.5,636.0 L343.5,634.3 L351.5,632.8 L359.5,631.8 L367.5,631.2 L375.5,630.8 L383.5,630.4 L391.5,630.5 L399.5,630.6 L407.5,631.0 L415.5,631.4 L423.5,631.9 L431.5,632.5 L439.5,633.1 L447.5,633.7 L455.5,634.4 L463.5,634.6 L471.5,634.4 L479.5,633.5 L487.5,632.0 L495.5,630.2 L503.5,628.2 L511.5,626.0 L519.5,624.0 L527.5,622.0 L535.5,620.3 L543.5,619.5 L551.5,619.7 L559.5,620.3 L567.5,620.9 L575.5,621.6 L583.5,622.0 L591.5,622.0 L599.5,621.6 L607.5,621.0 L615.5,619.9 L623.5,618.7 L631.5,617.5 L639.5,616.6 L647.5,615.5 L655.5,614.5 L663.5,613.8 L671.5,613.2 L679.5,613.0 L687.5,612.9 L695.5,612.8 L703.5,612.7 L711.5,613.1 L719.5,613.7 L727.5,614.7 L735.5,615.9 L743.5,617.2 L751.5,617.8 L759.5,617.7 L767.5,617.1 L775.5,615.8 L783.5,613.6 L791.5,610.4 L799.5,607.0 L807.5,603.7 L815.5,600.8 L823.5,598.8 L831.5,597.8 L839.5,597.4 L847.5,597.6 L855.5,598.5 L863.5,600.5 L871.5,602.4 L879.5,604.6 L887.5,606.6 L895.5,608.4 L903.5,611.2 L911.5,614.9 L919.5,619.3 L927.5,624.5 L935.5,630.1 L943.5,636.6 L951.5,644.0 L959.5,652.1 L967.5,661.3 L975.5,669.7 L983.5,677.6 L991.5,684.6 L999.5,691.1 L1007.5,697.5 L1015.5,704.1 L1023.5,710.4 L1031.5,716.5 L1039.5,721.4 L1047.5,725.7 L1055.5,729.3 L1063.5,732.5 L1071.5,735.1 L1079.5,736.5 L1087.5,735.7 L1095.5,732.2 L1103.5,727.0 L1111.5,720.8 L1119.5,713.9 L1127.5,706.6 L1135.5,699.1 L1143.5,691.3 L1151.5,683.5 L1159.5,676.6 L1167.5,671.4 L1175.5,666.7 L1183.5,662.4 L1191.5,658.7 L1199.5,655.6 L1207.5,653.2 L1215.5,651.7 L1223.5,650.8 L1231.5,650.3 L1239.5,649.8 L1247.5,649.8 L1255.5,650.3 L1263.5,651.3 L1271.5,652.3 L1279.5,653.5 L1287.5,654.2 L1295.5,654.9 L1303.5,655.7 L1311.5,656.4 L1319.5,656.8 L1327.5,657.2 L1335.5,657.4 L1343.5,658.4 L1351.5,660.1 L1359.5,662.4 L1367.5,664.9 L1375.5,667.2 L1383.5,670.0 L1391.5,673.3 L1399.5,676.4 L1407.5,679.5" fill="none" stroke="#ff0000" stroke-width="1" stroke-dasharray="3,3" shape-rendering="crispEdges"/>
<line x1="1352" y1="684.5" x2="1416.0832665216687" y2="692.0888078775661" stroke="#ff0000" stroke-width="3.5" stroke-linecap="round"/><polygon points="1428,693.5 1415.4952698039879,697.0541134935374 1418.0693887680573,692.3240065646384 1416.6712632393496,687.1235022615947" fill="#ff0000"/>
</g>
<text x="-4" y="590" font-size="9.6" fill="#000" textLength="132" lengthAdjust="spacingAndGlyphs">MACD(12,26,9) -0.5240 -0.4375</text>
<g shape-rendering="crispEdges">
<rect x="1651" y="579" width="3" height="1" fill="#000"/>
<rect x="1651" y="651" width="3" height="1" fill="#000"/>
<rect x="1651" y="750" width="3" height="1" fill="#000"/>
</g>
<text x="1655" y="588" font-size="9.6" textLength="27" lengthAdjust="spacingAndGlyphs" fill="#000">1.1334</text>
<text x="1656" y="655" font-size="9.6" textLength="15" lengthAdjust="spacingAndGlyphs" fill="#000">0.00</text>
<text x="1654" y="748" font-size="9.6" textLength="31" lengthAdjust="spacingAndGlyphs" fill="#000">-1.5528</text>
<g clip-path="url(#crsi)">
<g shape-rendering="crispEdges" stroke="#c0c0c0" stroke-width="1" stroke-dasharray="3,3">
<line x1="0" y1="789.5" x2="1650" y2="789.5"/>
<line x1="0" y1="840.5" x2="1650" y2="840.5"/>
<line x1="0" y1="901.5" x2="1650" y2="901.5"/>
</g>
<path d="M-0.5,798.1 L7.5,826.6 L15.5,817.8 L23.5,821.9 L31.5,831.7 L39.5,826.3 L47.5,820.8 L55.5,840.5 L63.5,840.3 L71.5,836.8 L79.5,857.6 L87.5,850.2 L95.5,848.0 L103.5,845.5 L111.5,849.7 L119.5,845.5 L127.5,843.1 L135.5,851.8 L143.5,853.4 L151.5,853.6 L159.5,848.8 L167.5,846.5 L175.5,830.8 L183.5,833.3 L191.5,835.8 L199.5,836.4 L207.5,836.8 L215.5,836.8 L223.5,832.0 L231.5,831.3 L239.5,836.1 L247.5,833.0 L255.5,831.8 L263.5,832.3 L271.5,841.3 L279.5,826.7 L287.5,824.2 L295.5,818.5 L303.5,821.8 L311.5,820.7 L319.5,819.2 L327.5,817.4 L335.5,813.6 L343.5,822.3 L351.5,822.3 L359.5,827.8 L367.5,824.8 L375.5,819.3 L383.5,816.2 L391.5,833.9 L399.5,824.3 L407.5,821.8 L415.5,827.6 L423.5,835.4 L431.5,833.9 L439.5,828.8 L447.5,824.4 L455.5,827.2 L463.5,816.7 L471.5,804.6 L479.5,796.5 L487.5,802.5 L495.5,813.0 L503.5,811.2 L511.5,813.7 L519.5,813.7 L527.5,812.6 L535.5,821.1 L543.5,829.0 L551.5,825.7 L559.5,819.9 L567.5,809.6 L575.5,820.0 L583.5,810.4 L591.5,801.2 L599.5,810.4 L607.5,810.2 L615.5,809.0 L623.5,814.1 L631.5,816.0 L639.5,810.3 L647.5,807.5 L655.5,803.6 L663.5,799.8 L671.5,803.5 L679.5,814.8 L687.5,812.0 L695.5,808.0 L703.5,818.3 L711.5,828.1 L719.5,822.0 L727.5,821.2 L735.5,819.1 L743.5,813.3 L751.5,798.6 L759.5,795.0 L767.5,793.1 L775.5,789.4 L783.5,786.7 L791.5,781.2 L799.5,808.2 L807.5,810.5 L815.5,819.9 L823.5,822.5 L831.5,821.9 L839.5,815.5 L847.5,813.6 L855.5,814.1 L863.5,821.6 L871.5,811.8 L879.5,827.1 L887.5,824.4 L895.5,825.8 L903.5,859.6 L911.5,855.8 L919.5,856.5 L927.5,863.7 L935.5,862.1 L943.5,869.4 L951.5,878.2 L959.5,878.7 L967.5,888.1 L975.5,869.8 L983.5,872.8 L991.5,860.9 L999.5,868.7 L1007.5,874.6 L1015.5,881.6 L1023.5,883.2 L1031.5,885.0 L1039.5,875.2 L1047.5,871.6 L1055.5,871.6 L1063.5,867.6 L1071.5,869.2 L1079.5,866.7 L1087.5,846.7 L1095.5,827.0 L1103.5,842.1 L1111.5,839.7 L1119.5,836.6 L1127.5,838.4 L1135.5,837.7 L1143.5,835.2 L1151.5,835.8 L1159.5,838.0 L1167.5,838.6 L1175.5,833.6 L1183.5,830.3 L1191.5,830.7 L1199.5,839.3 L1207.5,841.3 L1215.5,848.4 L1223.5,848.4 L1231.5,842.6 L1239.5,836.6 L1247.5,844.5 L1255.5,846.6 L1263.5,848.0 L1271.5,847.6 L1279.5,851.8 L1287.5,843.0 L1295.5,848.2 L1303.5,853.5 L1311.5,838.7 L1319.5,836.0 L1327.5,849.4 L1335.5,843.8 L1343.5,866.8 L1351.5,870.4 L1359.5,870.4 L1367.5,863.3 L1375.5,853.9 L1383.5,864.5 L1391.5,860.7 L1399.5,860.3 L1407.5,857.9" fill="none" stroke="#1e90ff" stroke-width="1" shape-rendering="crispEdges"/>
<line x1="1333" y1="858.5" x2="1407.0008111670675" y2="857.6395254515458" stroke="#ff0000" stroke-width="3" stroke-linecap="round"/><polygon points="1419,857.5 1407.0589467718783,862.6391874652676 1409.000675972556,857.6162712096215 1406.9426755622567,852.6398634378239" fill="#ff0000"/>
</g>
<text x="-5" y="766" font-size="9.6" fill="#000" textLength="66" lengthAdjust="spacingAndGlyphs">RSI(14) 39.9480</text>
<g shape-rendering="crispEdges">
<rect x="1651" y="755" width="3" height="1" fill="#000"/>
<rect x="1651" y="789" width="3" height="1" fill="#000"/>
<rect x="1651" y="840" width="3" height="1" fill="#000"/>
<rect x="1651" y="901" width="3" height="1" fill="#000"/>
<rect x="1651" y="926" width="3" height="1" fill="#000"/>
</g>
<text x="1655" y="764" font-size="9.6" textLength="15" lengthAdjust="spacingAndGlyphs" fill="#000">100</text>
<text x="1655" y="793" font-size="9.6" textLength="10" lengthAdjust="spacingAndGlyphs" fill="#000">80</text>
<text x="1655" y="844" font-size="9.6" textLength="10" lengthAdjust="spacingAndGlyphs" fill="#000">50</text>
<text x="1655" y="905" font-size="9.6" textLength="10" lengthAdjust="spacingAndGlyphs" fill="#000">15</text>
<text x="1655" y="924" font-size="9.6" textLength="5" lengthAdjust="spacingAndGlyphs" fill="#000">0</text>
<g shape-rendering="crispEdges">
<rect x="55" y="927" width="1" height="4" fill="#000"/>
<rect x="119" y="927" width="1" height="4" fill="#000"/>
<rect x="183" y="927" width="1" height="4" fill="#000"/>
<rect x="247" y="927" width="1" height="4" fill="#000"/>
<rect x="311" y="927" width="1" height="4" fill="#000"/>
<rect x="375" y="927" width="1" height="4" fill="#000"/>
<rect x="439" y="927" width="1" height="4" fill="#000"/>
<rect x="503" y="927" width="1" height="4" fill="#000"/>
<rect x="567" y="927" width="1" height="4" fill="#000"/>
<rect x="631" y="927" width="1" height="4" fill="#000"/>
<rect x="695" y="927" width="1" height="4" fill="#000"/>
<rect x="759" y="927" width="1" height="4" fill="#000"/>
<rect x="823" y="927" width="1" height="4" fill="#000"/>
<rect x="887" y="927" width="1" height="4" fill="#000"/>
<rect x="951" y="927" width="1" height="4" fill="#000"/>
<rect x="1015" y="927" width="1" height="4" fill="#000"/>
<rect x="1079" y="927" width="1" height="4" fill="#000"/>
<rect x="1143" y="927" width="1" height="4" fill="#000"/>
<rect x="1207" y="927" width="1" height="4" fill="#000"/>
<rect x="1271" y="927" width="1" height="4" fill="#000"/>
<rect x="1335" y="927" width="1" height="4" fill="#000"/>
<rect x="1399" y="927" width="1" height="4" fill="#000"/>
</g>
<text x="3" y="940" font-size="9.6" fill="#000" textLength="37.6" lengthAdjust="spacingAndGlyphs">Mar 2022</text>
<text x="57" y="940" font-size="9.6" fill="#000" textLength="52.5" lengthAdjust="spacingAndGlyphs">29 Mar 12:00</text>
<text x="121" y="940" font-size="9.6" fill="#000" textLength="52.5" lengthAdjust="spacingAndGlyphs">30 Mar 20:00</text>
<text x="185" y="940" font-size="9.6" fill="#000" textLength="45.5" lengthAdjust="spacingAndGlyphs">1 Apr 04:00</text>
<text x="249" y="940" font-size="9.6" fill="#000" textLength="45.5" lengthAdjust="spacingAndGlyphs">4 Apr 12:00</text>
<text x="313" y="940" font-size="9.6" fill="#000" textLength="45.5" lengthAdjust="spacingAndGlyphs">5 Apr 20:00</text>
<text x="377" y="940" font-size="9.6" fill="#000" textLength="45.5" lengthAdjust="spacingAndGlyphs">7 Apr 04:00</text>
<text x="441" y="940" font-size="9.6" fill="#000" textLength="45.5" lengthAdjust="spacingAndGlyphs">8 Apr 12:00</text>
<text x="505" y="940" font-size="9.6" fill="#000" textLength="49.8" lengthAdjust="spacingAndGlyphs">11 Apr 20:00</text>
<text x="569" y="940" font-size="9.6" fill="#000" textLength="50.5" lengthAdjust="spacingAndGlyphs">13 Apr 04:00</text>
<text x="633" y="940" font-size="9.6" fill="#000" textLength="50.5" lengthAdjust="spacingAndGlyphs">14 Apr 12:00</text>
<text x="697" y="940" font-size="9.6" fill="#000" textLength="50.5" lengthAdjust="spacingAndGlyphs">17 Apr 23:00</text>
<text x="761" y="940" font-size="9.6" fill="#000" textLength="50.5" lengthAdjust="spacingAndGlyphs">19 Apr 04:00</text>
<text x="825" y="940" font-size="9.6" fill="#000" textLength="50.5" lengthAdjust="spacingAndGlyphs">20 Apr 12:00</text>
<text x="889" y="940" font-size="9.6" fill="#000" textLength="50.5" lengthAdjust="spacingAndGlyphs">21 Apr 20:00</text>
<text x="953" y="940" font-size="9.6" fill="#000" textLength="50.5" lengthAdjust="spacingAndGlyphs">25 Apr 04:00</text>
<text x="1017" y="940" font-size="9.6" fill="#000" textLength="50.5" lengthAdjust="spacingAndGlyphs">26 Apr 12:00</text>
<text x="1081" y="940" font-size="9.6" fill="#000" textLength="50.5" lengthAdjust="spacingAndGlyphs">27 Apr 20:00</text>
<text x="1145" y="940" font-size="9.6" fill="#000" textLength="50.5" lengthAdjust="spacingAndGlyphs">29 Apr 04:00</text>
<text x="1209" y="940" font-size="9.6" fill="#000" textLength="49.0" lengthAdjust="spacingAndGlyphs">2 May 12:00</text>
<text x="1273" y="940" font-size="9.6" fill="#000" textLength="49.0" lengthAdjust="spacingAndGlyphs">3 May 20:00</text>
<text x="1337" y="940" font-size="9.6" fill="#000" textLength="49.0" lengthAdjust="spacingAndGlyphs">5 May 04:00</text>
<text x="1401" y="940" font-size="9.6" fill="#000" textLength="49.0" lengthAdjust="spacingAndGlyphs">6 May 12:00</text>
<defs>
<linearGradient id="gsell" x1="0" y1="0" x2="0" y2="1"><stop offset="0" stop-color="#5a5aff"/><stop offset="1" stop-color="#3a3ae8"/></linearGradient>
<linearGradient id="gprice" x1="0" y1="0" x2="0" y2="1"><stop offset="0" stop-color="#3636e0"/><stop offset="1" stop-color="#0000b8"/></linearGradient>
<linearGradient id="gbtn" x1="0" y1="0" x2="0" y2="1"><stop offset="0" stop-color="#f4f4f4"/><stop offset="1" stop-color="#d8d8d8"/></linearGradient>
</defs>
<g shape-rendering="crispEdges">
<rect x="0" y="70" width="103" height="33" fill="url(#gprice)"/>
<rect x="105" y="70" width="108" height="33" fill="url(#gprice)"/>
<rect x="0" y="46" width="46" height="24" fill="url(#gsell)"/>
<rect x="161" y="46" width="52" height="24" fill="url(#gsell)"/>
<rect x="0" y="69" width="42" height="1" fill="#10108c"/>
<rect x="165" y="69" width="44" height="1" fill="#10108c"/>
<rect x="0" y="70" width="42" height="1" fill="#7070f4"/>
<rect x="165" y="70" width="44" height="1" fill="#7070f4"/>
<rect x="0" y="46" width="46" height="1" fill="#0808a0"/>
<rect x="45" y="46" width="1" height="24" fill="#0808a0"/>
<rect x="161" y="46" width="52" height="1" fill="#0808a0"/>
<rect x="161" y="46" width="1" height="24" fill="#0808a0"/>
<rect x="212" y="46" width="1" height="57" fill="#0808a0"/>
<rect x="46" y="46" width="115" height="25" fill="#fff"/>
<rect x="48.5" y="46.5" width="110" height="21" fill="none" stroke="#b0b0b0"/>
<rect x="49" y="47" width="20" height="20" fill="url(#gbtn)"/>
<rect x="69" y="47" width="1" height="20" fill="#c8c8c8"/>
<rect x="138" y="47" width="20" height="20" fill="url(#gbtn)"/>
<rect x="137" y="47" width="1" height="20" fill="#c8c8c8"/>
</g>
<polygon points="56,55 62,55 59,58" fill="#4a64c8"/>
<polygon points="145,58 151,58 148,55" fill="#4a64c8"/>
<text x="110" y="62" font-size="12" fill="#000" textLength="24" lengthAdjust="spacingAndGlyphs">1.00</text>
<text x="6" y="62" font-size="12" fill="#fff" textLength="26" lengthAdjust="spacingAndGlyphs">SELL</text>
<text x="174" y="62" font-size="12" fill="#fff" textLength="24" lengthAdjust="spacingAndGlyphs">BUY</text>
<text x="17" y="98" font-size="11" font-weight="bold" fill="#fff" textLength="21" lengthAdjust="spacingAndGlyphs">161</text>
<text x="40" y="98" font-size="33" fill="#fff" textLength="37" lengthAdjust="spacingAndGlyphs">01</text>
<text x="80" y="82" font-size="11" font-weight="bold" fill="#fff">0</text>
<text x="127" y="98" font-size="11" font-weight="bold" fill="#fff" textLength="21" lengthAdjust="spacingAndGlyphs">161</text>
<text x="151" y="98" font-size="33" fill="#fff" textLength="37" lengthAdjust="spacingAndGlyphs">04</text>
<text x="192" y="82" font-size="11" font-weight="bold" fill="#fff">8</text>
<path d="M0,5 L3,8 M1,13 L4,17" stroke="#c89a28" stroke-width="2" fill="none"/>
<rect x="11" y="2" width="1" height="18" fill="#a0a0a0" shape-rendering="crispEdges"/>
<path d="M22.5,3.5 h8 l3,3 v10 h-11 z" fill="#fff" stroke="#707070"/>
<path d="M24,8h6M24,10h6M24,12h5" stroke="#909090" stroke-width="1"/>
<path d="M32,12 v8 M28,16 h8" stroke="#22b422" stroke-width="3"/>
<path transform="translate(40,3)" d="M3.5,0v2 M0,2.5h7 M1.5,3.5v1.5M5.5,3.5v1.5 M0,5.5h7 M0,8.5h7 M3.5,5.5v6.5 M2.5,9.5l-2.5,2.5 M4.5,9.5l2,2 M12,0.5l-3.5,1 M8.5,1.5v10.5 M8.5,5.5h4 M11.5,5.5v6.5" stroke="#000" stroke-width="1" fill="none" shape-rendering="crispEdges"/>
<path transform="translate(53,3)" d="M0.5,0.5l2,2 M0,4.5h2.5 M2.5,4.5v7 M2.5,11.5l2,-2 M5,1.5h7 M9.5,1.5v10.5 M9.5,11.5h-2" stroke="#000" stroke-width="1" fill="none" shape-rendering="crispEdges"/>
<path transform="translate(66,3)" d="M3.5,0v1.5 M8.5,0v1.5 M1.5,2.5h9v6h-9z M1.5,5.5h9 M6,2.5v9.5 M0,10.5h12" stroke="#000" stroke-width="1" fill="none" shape-rendering="crispEdges"/>
<path d="M88,11 l6,-8 l10,7 l-6,8 z" fill="#e8c030" stroke="#a87810" stroke-width="1"/>
<path d="M89,12.5 l9,6 M90,14 l8,5" stroke="#c89020" stroke-width="1" fill="none"/>
<rect x="118.5" y="2.5" width="10" height="10" fill="#3a98f0" stroke="#2068c0"/>
<rect x="122" y="6" width="5" height="2" fill="#e8f4ff"/>
<path d="M117,17.5 q-1,-4 3,-4 q2,-4 6,-2 q5,-1 5,3 q2,1 0,3 z" fill="#e4eaf4" stroke="#6a80b0" stroke-width="1"/>
<circle cx="152" cy="10" r="7.5" fill="none" stroke="#a0c0e0" stroke-width="1"/>
<circle cx="152" cy="10" r="4.8" fill="none" stroke="#7098d0" stroke-width="1"/>
<circle cx="152" cy="9.5" r="1.8" fill="#2a60c0"/>
<path d="M152.5,10 v8 l2,-1" stroke="#30a030" stroke-width="1.3" fill="none"/>
<path d="M173,12 l6,7 l6,-3 l3,-7 z" fill="#f4d040" stroke="#c0a020" stroke-width="0.8"/>
<ellipse cx="179" cy="7" rx="8" ry="3" fill="#60a8e0" stroke="#3a80c0" stroke-width="0.8"/>
<ellipse cx="179" cy="5" rx="4" ry="3" fill="#78b8e8"/>
<circle cx="183.5" cy="13.5" r="4.3" fill="#e02818"/>
<rect x="182" y="12" width="3" height="3" fill="#fff"/>
<path transform="translate(193,3)" d="M5.5,0v1.5 M1.5,1.5h9v10.5h-9z M1.5,4.5h9 M1.5,7.5h9" stroke="#000" stroke-width="1" fill="none" shape-rendering="crispEdges"/>
<path transform="translate(205,3)" d="M0,1.5h5 M0,4.5h6 M2.5,4.5l-2,5.5h5 M4.5,8l1,2 M9.5,0v3.5 M6.5,3.5h5v8l-1.5,-1 M9.5,3.5v2l-3,6" stroke="#000" stroke-width="1" fill="none" shape-rendering="crispEdges"/>
<path transform="translate(217,3)" d="M6,0v1.5 M0,2.5h12 M3.5,3.5l-2.5,2.5 M8.5,3.5l2.5,2.5 M3,6.5l6,5.5 M9,6.5l-8,5.5" stroke="#000" stroke-width="1" fill="none" shape-rendering="crispEdges"/>
<path transform="translate(229,3)" d="M2.5,0.5h7v5h-7z M2.5,3.5h7 M1.5,6.5h10v5l-1,0.5 M4.5,6.5l-4,5 M7.5,7.5l-3.5,4 M10,7.5l-3,4" stroke="#000" stroke-width="1" fill="none" shape-rendering="crispEdges"/>
<rect x="247" y="2" width="1" height="18" fill="#a0a0a0" shape-rendering="crispEdges"/>
<rect x="251" y="3" width="3" height="1" fill="#b8b8b8" shape-rendering="crispEdges"/>
<rect x="251" y="5" width="3" height="1" fill="#b8b8b8" shape-rendering="crispEdges"/>
<rect x="251" y="7" width="3" height="1" fill="#b8b8b8" shape-rendering="crispEdges"/>
<rect x="251" y="9" width="3" height="1" fill="#b8b8b8" shape-rendering="crispEdges"/>
<rect x="251" y="11" width="3" height="1" fill="#b8b8b8" shape-rendering="crispEdges"/>
<rect x="251" y="13" width="3" height="1" fill="#b8b8b8" shape-rendering="crispEdges"/>
<rect x="251" y="15" width="3" height="1" fill="#b8b8b8" shape-rendering="crispEdges"/>
<rect x="251" y="17" width="3" height="1" fill="#b8b8b8" shape-rendering="crispEdges"/>
<rect x="251" y="19" width="3" height="1" fill="#b8b8b8" shape-rendering="crispEdges"/>
<path d="M265.5,4 v14 M263,15.5 h14" stroke="#404040" stroke-width="1" fill="none" shape-rendering="crispEdges"/>
<path d="M272.5,5v9 M270,12.5h2.5 M272.5,6.5h2.5" stroke="#1a9a1a" stroke-width="1" fill="none" shape-rendering="crispEdges"/>
<rect x="285" y="2" width="1" height="18" fill="#a0a0a0" shape-rendering="crispEdges"/>
<rect x="286" y="1" width="25" height="20" fill="#f8f8f8"/>
<path d="M293.5,4 v14 M291,15.5 h14" stroke="#404040" stroke-width="1" fill="none" shape-rendering="crispEdges"/>
<rect x="297" y="5" width="5" height="8" fill="#30c030" stroke="#107010"/><path d="M299.5,2v3M299.5,13v3" stroke="#107010"/>
<path d="M321.5,4 v14 M319,15.5 h14" stroke="#404040" stroke-width="1" fill="none" shape-rendering="crispEdges"/>
<path d="M321,14 l4,-5 l3,-1 l4,4" stroke="#2a9a2a" stroke-width="1.2" fill="none"/>
<rect x="342" y="2" width="1" height="18" fill="#a0a0a0" shape-rendering="crispEdges"/>
<circle cx="357" cy="8" r="5" fill="#d8ecfa" stroke="#3a78c8" stroke-width="1.3"/>
<path d="M360.5,11.5 l5,5" stroke="#c8a020" stroke-width="2.5"/>
<path d="M354.5,8h5" stroke="#2a68b8" stroke-width="1.5"/>
<path d="M357,5.5v5" stroke="#2a68b8" stroke-width="1.5"/>
<circle cx="385" cy="8" r="5" fill="#d8ecfa" stroke="#3a78c8" stroke-width="1.3"/>
<path d="M388.5,11.5 l5,5" stroke="#c8a020" stroke-width="2.5"/>
<path d="M382.5,8h5" stroke="#2a68b8" stroke-width="1.5"/>
<rect x="407" y="2" width="8" height="8" fill="#3aa030"/><rect x="415" y="2" width="8" height="8" fill="#2a5ad0"/><rect x="407" y="10" width="8" height="8" fill="#2a5ad0"/><rect x="415" y="10" width="8" height="8" fill="#3aa030"/>
<path d="M409,6h4M417,6h4M409,14h4M417,14h4" stroke="#fff" stroke-width="1.5"/>
<rect x="432" y="2" width="1" height="18" fill="#a0a0a0" shape-rendering="crispEdges"/>
<rect x="437" y="2" width="1" height="18" fill="#a0a0a0" shape-rendering="crispEdges"/>
<path d="M445.5,4 v14 M443,15.5 h14" stroke="#404040" stroke-width="1" fill="none" shape-rendering="crispEdges"/>
<polygon points="451,6 456,9.5 451,13" fill="#20b020"/>
<rect x="465" y="2" width="1" height="18" fill="#a0a0a0" shape-rendering="crispEdges"/>
<path d="M473.5,4 v14 M471,15.5 h14" stroke="#404040" stroke-width="1" fill="none" shape-rendering="crispEdges"/>
<path d="M479.5,4v12" stroke="#2a68b8"/><path d="M485,9.5h-4l2,-2M481,9.5l2,2" stroke="#e05010" fill="none"/>
<rect x="494" y="2" width="1" height="18" fill="#a0a0a0" shape-rendering="crispEdges"/>
<path d="M504.5,3.5 h8 l3,3 v10 h-11 z" fill="#fff" stroke="#707070"/>
<path d="M514,12 v8 M510,16 h8" stroke="#22b422" stroke-width="3"/>
<polygon points="526.0,9 531.0,9 528.5,12" fill="#000"/>
<circle cx="550" cy="10" r="7.5" fill="#2a70d0" stroke="#1a50a0"/><circle cx="550" cy="10" r="5.5" fill="#f4f4f4"/><path d="M550,6v4h3" stroke="#333" fill="none"/>
<polygon points="565.0,9 570.0,9 567.5,12" fill="#000"/>
<rect x="581.5" y="3.5" width="15" height="13" fill="#fff" stroke="#3a70c0"/><rect x="582" y="4" width="14" height="2" fill="#4a80d0"/>
<path d="M583,10 l3,-1 l3,1 l3,-1 l3,0" stroke="#b03020" fill="none"/><path d="M583,14 l3,-1 l3,1 l3,-2 l3,1" stroke="#30a030" fill="none"/>
<polygon points="604.0,9 609.0,9 606.5,12" fill="#000"/>
<rect x="615" y="2" width="1" height="18" fill="#a0a0a0" shape-rendering="crispEdges"/>
<rect x="619" y="3" width="3" height="1" fill="#b8b8b8" shape-rendering="crispEdges"/>
<rect x="619" y="5" width="3" height="1" fill="#b8b8b8" shape-rendering="crispEdges"/>
<rect x="619" y="7" width="3" height="1" fill="#b8b8b8" shape-rendering="crispEdges"/>
<rect x="619" y="9" width="3" height="1" fill="#b8b8b8" shape-rendering="crispEdges"/>
<rect x="619" y="11" width="3" height="1" fill="#b8b8b8" shape-rendering="crispEdges"/>
<rect x="619" y="13" width="3" height="1" fill="#b8b8b8" shape-rendering="crispEdges"/>
<rect x="619" y="15" width="3" height="1" fill="#b8b8b8" shape-rendering="crispEdges"/>
<rect x="619" y="17" width="3" height="1" fill="#b8b8b8" shape-rendering="crispEdges"/>
<rect x="619" y="19" width="3" height="1" fill="#b8b8b8" shape-rendering="crispEdges"/>
<rect x="625" y="2" width="1" height="18" fill="#a0a0a0" shape-rendering="crispEdges"/>
<rect x="626" y="1" width="25" height="20" fill="#f8f8f8"/>
<path d="M633,3 v12 l3,-3 l2.5,5 l2,-1 l-2.5,-5 h4 z" fill="#3a3a3a"/>
<path d="M665.5,3v15 M658,10.5h15" stroke="#3a3a3a" stroke-width="1" shape-rendering="crispEdges"/>
<rect x="682" y="2" width="1" height="18" fill="#a0a0a0" shape-rendering="crispEdges"/>
<rect x="699" y="4" width="1.5" height="13" fill="#3a3a3a"/>
<rect x="722" y="10" width="12" height="1.5" fill="#3a3a3a"/>
<path d="M750,17 l12,-12" stroke="#3a3a3a" stroke-width="1.2"/>
<path d="M776,13 l10,-10 M778,16 l10,-10 M778,8l3,3M781,5l3,3" stroke="#3a3a3a" stroke-width="1" fill="none"/>
<text x="786" y="19" font-size="7" font-weight="bold" fill="#3a3a3a">E</text>
<path d="M804,4h12M804,7h12M804,10h12M804,14h8" stroke="#3a3a3a" stroke-width="1" stroke-dasharray="1,1" fill="none" shape-rendering="crispEdges"/>
<text x="813" y="19" font-size="7" font-weight="bold" fill="#3a3a3a">F</text>
<text x="835" y="15" font-size="12" font-weight="bold" fill="#555">A</text>
<rect x="861.5" y="3.5" width="12" height="13" fill="none" stroke="#555" stroke-dasharray="1,1" shape-rendering="crispEdges"/>
<text x="864" y="14.5" font-size="11" font-weight="bold" fill="#555">T</text>
<path d="M890,7 l3,-3 l3,3 l-3,3z M897,13 l3,-3 l3,3 l-3,3z" fill="#404040"/><path d="M891,10 l3,3 l4,-5" stroke="#404040" fill="none"/>
<polygon points="910.0,9 915.0,9 912.5,12" fill="#000"/>
<rect x="921" y="2" width="1" height="18" fill="#a0a0a0" shape-rendering="crispEdges"/>
<rect x="925" y="3" width="3" height="1" fill="#b8b8b8" shape-rendering="crispEdges"/>
<rect x="925" y="5" width="3" height="1" fill="#b8b8b8" shape-rendering="crispEdges"/>
<rect x="925" y="7" width="3" height="1" fill="#b8b8b8" shape-rendering="crispEdges"/>
<rect x="925" y="9" width="3" height="1" fill="#b8b8b8" shape-rendering="crispEdges"/>
<rect x="925" y="11" width="3" height="1" fill="#b8b8b8" shape-rendering="crispEdges"/>
<rect x="925" y="13" width="3" height="1" fill="#b8b8b8" shape-rendering="crispEdges"/>
<rect x="925" y="15" width="3" height="1" fill="#b8b8b8" shape-rendering="crispEdges"/>
<rect x="925" y="17" width="3" height="1" fill="#b8b8b8" shape-rendering="crispEdges"/>
<rect x="925" y="19" width="3" height="1" fill="#b8b8b8" shape-rendering="crispEdges"/>
<rect x="1072" y="1" width="25" height="20" fill="#f8f8f8"/>
<rect x="1071" y="2" width="1" height="18" fill="#a0a0a0" shape-rendering="crispEdges"/>
<text x="937" y="14" font-size="9.6" fill="#333" textLength="12" lengthAdjust="spacingAndGlyphs">M1</text>
<text x="965" y="14" font-size="9.6" fill="#333" textLength="12" lengthAdjust="spacingAndGlyphs">M5</text>
<text x="991" y="14" font-size="9.6" fill="#333" textLength="17" lengthAdjust="spacingAndGlyphs">M15</text>
<text x="1019" y="14" font-size="9.6" fill="#333" textLength="17" lengthAdjust="spacingAndGlyphs">M30</text>
<text x="1050" y="14" font-size="9.6" fill="#333" textLength="11" lengthAdjust="spacingAndGlyphs">H1</text>
<text x="1077" y="14" font-size="9.6" fill="#333" textLength="12" lengthAdjust="spacingAndGlyphs">H4</text>
<text x="1106" y="14" font-size="9.6" fill="#333" textLength="11" lengthAdjust="spacingAndGlyphs">D1</text>
<text x="1133" y="14" font-size="9.6" fill="#333" textLength="14" lengthAdjust="spacingAndGlyphs">W1</text>
<text x="1160" y="14" font-size="9.6" fill="#333" textLength="14" lengthAdjust="spacingAndGlyphs">MN</text>
<rect x="1182" y="2" width="1" height="18" fill="#a0a0a0" shape-rendering="crispEdges"/>
<circle cx="1652" cy="7.5" r="3.8" fill="none" stroke="#2a60c8" stroke-width="1.3"/><path d="M1649,10.5 l-4,4" stroke="#2a60c8" stroke-width="2.2"/>
<ellipse cx="1675" cy="12" rx="6" ry="4" fill="#e8e8e8" stroke="#b8b8b8"/><path d="M1672,15 l-1,3 l3,-2" fill="#e8e8e8" stroke="#b8b8b8"/>
<circle cx="1683" cy="7.5" r="7.5" fill="#e03a28"/>
<text x="1680" y="12" font-size="9.6" fill="#fff">1</text>
</svg></body></html>
